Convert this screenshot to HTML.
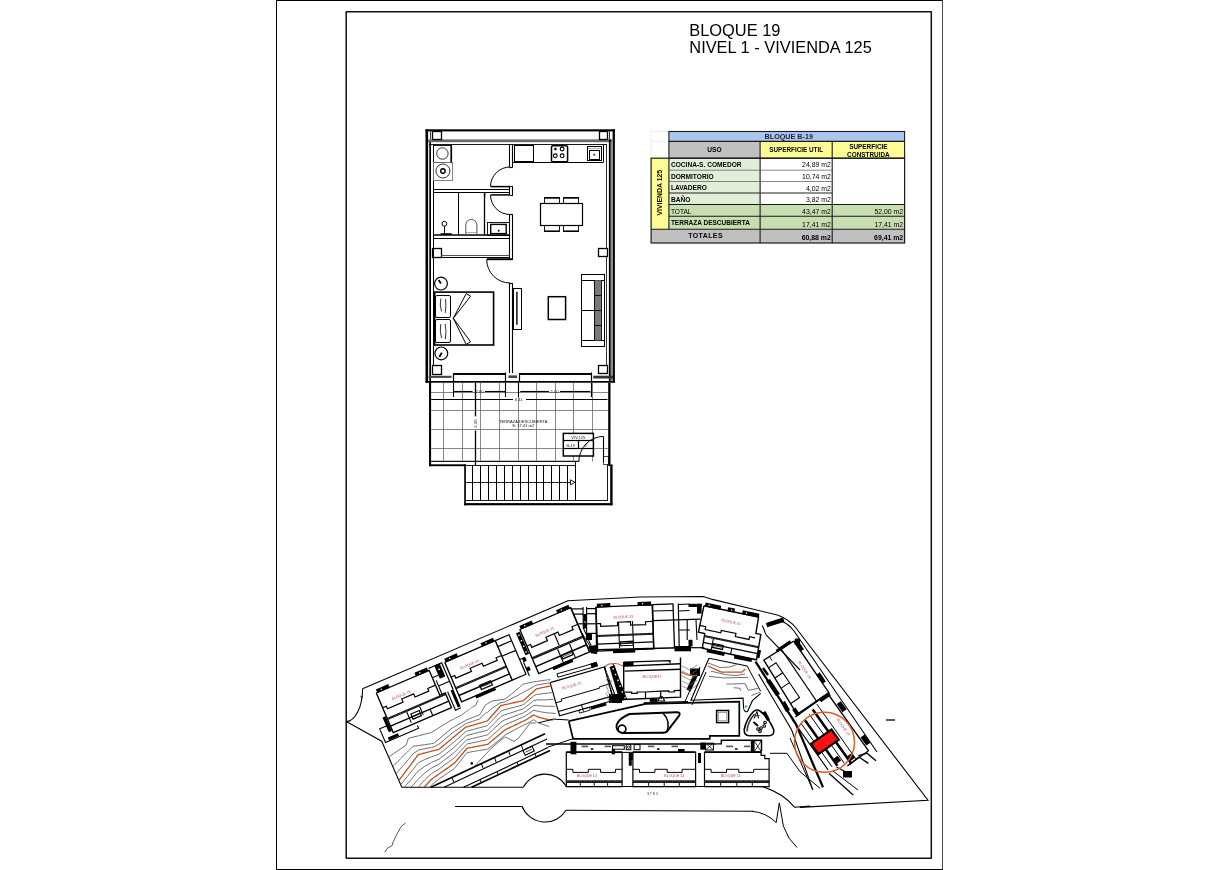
<!DOCTYPE html><html><head><meta charset="utf-8"><style>html,body{margin:0;padding:0;background:#fff;width:1220px;height:870px;overflow:hidden}svg{display:block;font-family:"Liberation Sans",sans-serif;will-change:transform}</style></head><body>
<svg width="1220" height="870" viewBox="0 0 1220 870">
<rect x="276.00" y="0.00" width="667.00" height="1.00" fill="#000"/>
<rect x="276.00" y="0.00" width="1.00" height="870.00" fill="#000"/>
<rect x="942.00" y="0.00" width="1.00" height="870.00" fill="#4a4a4a"/>
<rect x="276.00" y="869.00" width="667.00" height="1.00" fill="#000"/>
<rect x="346.20" y="11.70" width="585.10" height="846.50" stroke="#111" stroke-width="1.5" fill="none" stroke-linejoin="round"/>
<text x="689.30" y="35.90" font-size="16.4" text-anchor="start" font-weight="normal" fill="#000" >BLOQUE 19</text>
<text x="689.30" y="52.90" font-size="16.4" text-anchor="start" font-weight="normal" fill="#000" >NIVEL 1 - VIVIENDA 125</text>
<rect x="425.50" y="129.30" width="189.40" height="2.10" fill="#000"/>
<rect x="425.50" y="129.30" width="2.60" height="253.40" fill="#000"/>
<rect x="612.60" y="129.30" width="2.30" height="253.40" fill="#000"/>
<rect x="425.50" y="381.00" width="189.40" height="1.70" fill="#000"/>
<rect x="428.00" y="139.40" width="184.60" height="2.80" fill="#6a6a6a"/>
<line x1="429.00" y1="144.50" x2="607.00" y2="144.50" stroke="#000" stroke-width="0.9" />
<rect x="608.90" y="139.40" width="1.90" height="241.60" fill="#000"/>
<rect x="610.80" y="142.00" width="1.80" height="239.00" fill="#8a8a8a"/>
<line x1="606.50" y1="144.00" x2="606.50" y2="373.50" stroke="#000" stroke-width="0.8" />
<rect x="429.30" y="142.00" width="1.70" height="239.00" fill="#000"/>
<line x1="433.50" y1="144.50" x2="433.50" y2="373.50" stroke="#000" stroke-width="1.0" />
<rect x="432.50" y="131.50" width="9.00" height="8.00" stroke="#000" stroke-width="1.3" fill="#fff" />
<rect x="599.50" y="131.50" width="8.00" height="8.00" stroke="#000" stroke-width="1.3" fill="#fff" />
<rect x="432.50" y="248.50" width="9.00" height="9.00" stroke="#000" stroke-width="1.3" fill="#fff" />
<rect x="598.50" y="248.50" width="9.00" height="8.00" stroke="#000" stroke-width="1.3" fill="#fff" />
<rect x="432.50" y="365.50" width="9.00" height="9.00" stroke="#000" stroke-width="1.3" fill="#fff" />
<rect x="598.50" y="365.50" width="9.00" height="8.00" stroke="#000" stroke-width="1.3" fill="#fff" />
<line x1="609.50" y1="131.40" x2="609.50" y2="139.40" stroke="#000" stroke-width="0.8" />
<line x1="430.50" y1="131.40" x2="430.50" y2="139.40" stroke="#000" stroke-width="0.8" />
<line x1="509.50" y1="144.00" x2="509.50" y2="167.00" stroke="#000" stroke-width="1.1" />
<line x1="509.50" y1="186.30" x2="509.50" y2="195.20" stroke="#000" stroke-width="1.1" />
<line x1="509.50" y1="214.30" x2="509.50" y2="260.00" stroke="#000" stroke-width="1.1" />
<line x1="509.50" y1="283.30" x2="509.50" y2="373.00" stroke="#000" stroke-width="1.1" />
<line x1="512.50" y1="144.00" x2="512.50" y2="167.00" stroke="#000" stroke-width="1.1" />
<line x1="512.50" y1="186.30" x2="512.50" y2="195.20" stroke="#000" stroke-width="1.1" />
<line x1="512.50" y1="214.30" x2="512.50" y2="260.00" stroke="#000" stroke-width="1.1" />
<line x1="512.50" y1="283.30" x2="512.50" y2="373.00" stroke="#000" stroke-width="1.1" />
<line x1="509.60" y1="167.50" x2="512.80" y2="167.50" stroke="#000" stroke-width="1.2" />
<line x1="509.60" y1="214.50" x2="512.80" y2="214.50" stroke="#000" stroke-width="1.2" />
<line x1="509.60" y1="283.50" x2="512.80" y2="283.50" stroke="#000" stroke-width="1.2" />
<line x1="433.80" y1="189.50" x2="510.10" y2="189.50" stroke="#000" stroke-width="1.1" />
<line x1="433.80" y1="192.50" x2="510.10" y2="192.50" stroke="#000" stroke-width="1.1" />
<line x1="510.10" y1="186.50" x2="512.80" y2="186.50" stroke="#000" stroke-width="1.1" />
<line x1="510.10" y1="195.50" x2="512.80" y2="195.50" stroke="#000" stroke-width="1.1" />
<line x1="490.80" y1="186.60" x2="510.10" y2="186.60" stroke="#000" stroke-width="1.5" />
<line x1="490.80" y1="194.90" x2="510.10" y2="194.90" stroke="#000" stroke-width="1.5" />
<line x1="486.70" y1="259.20" x2="512.50" y2="259.20" stroke="#000" stroke-width="2.0" />
<path d="M510.1,167 A19.6,19.6 0 0 0 490.5,186.6" stroke="#000" stroke-width="1.0" fill="none" />
<path d="M490.5,194.9 A19.6,19.6 0 0 0 510.1,214.5" stroke="#000" stroke-width="1.0" fill="none" />
<path d="M486.7,259.6 A23.4,23.4 0 0 0 510.1,283" stroke="#000" stroke-width="1.0" fill="none" />
<rect x="433.50" y="145.50" width="18.00" height="17.00" stroke="#000" stroke-width="0.9" fill="none" />
<circle cx="442.40" cy="153.50" r="5.70" stroke="#000" stroke-width="0.8" fill="none"/>
<rect x="450.40" y="145.20" width="1.70" height="18.00" fill="#000"/>
<rect x="433.50" y="162.50" width="19.00" height="18.00" stroke="#777" stroke-width="0.9" fill="none" />
<circle cx="442.90" cy="171.00" r="7.00" stroke="#000" stroke-width="0.8" fill="none"/>
<circle cx="442.90" cy="171.00" r="2.20" stroke="#000" stroke-width="1.4" fill="none"/>
<line x1="458.50" y1="192.30" x2="458.50" y2="235.00" stroke="#000" stroke-width="1.0" />
<line x1="484.50" y1="192.30" x2="484.50" y2="235.00" stroke="#000" stroke-width="1.3" />
<rect x="483.90" y="192.30" width="1.40" height="4.70" fill="#000"/>
<line x1="433.80" y1="235.00" x2="510.10" y2="235.00" stroke="#000" stroke-width="1.6" />
<circle cx="444.40" cy="223.80" r="2.40" stroke="#000" stroke-width="1.0" fill="none"/>
<line x1="444.50" y1="226.20" x2="444.50" y2="233.40" stroke="#000" stroke-width="1.0" />
<rect x="440.50" y="233.20" width="11.10" height="1.80" fill="#000"/>
<path d="M465.8,235 V225 A5.55,5.55 0 0 1 476.9,225 V235" stroke="#555" stroke-width="1.0" fill="none" />
<line x1="465.80" y1="232.50" x2="476.90" y2="232.50" stroke="#777" stroke-width="0.6" />
<rect x="487.50" y="222.50" width="22.00" height="13.00" stroke="#000" stroke-width="0.9" fill="none" />
<rect x="490.70" y="224.40" width="15.50" height="9.20" stroke="#000" stroke-width="1.4" fill="none" />
<circle cx="498.70" cy="230.70" r="0.70" stroke="#000" stroke-width="0.6" fill="#000"/>
<rect x="433.50" y="238.50" width="76.00" height="19.00" stroke="#000" stroke-width="1.0" fill="none" />
<line x1="441.30" y1="255.50" x2="509.70" y2="255.50" stroke="#555" stroke-width="1.0" />
<line x1="512.30" y1="162.50" x2="603.50" y2="162.50" stroke="#000" stroke-width="1.0" />
<line x1="603.50" y1="145.00" x2="603.50" y2="162.40" stroke="#000" stroke-width="1.0" />
<rect x="514.50" y="145.50" width="19.00" height="16.00" stroke="#000" stroke-width="1.0" fill="none" />
<line x1="514.60" y1="162.00" x2="533.40" y2="162.00" stroke="#000" stroke-width="1.6" />
<rect x="551.50" y="145.80" width="16.10" height="16.40" stroke="#000" stroke-width="1.5" fill="none" rx="1.4"/>
<circle cx="555.40" cy="149.00" r="1.10" stroke="#000" stroke-width="0.5" fill="#000"/>
<circle cx="562.10" cy="149.00" r="1.90" stroke="#000" stroke-width="1.1" fill="none"/>
<circle cx="555.30" cy="155.80" r="1.90" stroke="#000" stroke-width="1.1" fill="none"/>
<circle cx="562.10" cy="155.80" r="1.90" stroke="#000" stroke-width="1.1" fill="none"/>
<line x1="551.80" y1="161.80" x2="567.30" y2="161.80" stroke="#000" stroke-width="1.6" />
<rect x="587.50" y="146.50" width="14.00" height="14.00" stroke="#000" stroke-width="1.0" fill="none" />
<rect x="589.50" y="150.50" width="10.00" height="9.00" stroke="#000" stroke-width="1.0" fill="none" />
<line x1="588.20" y1="148.50" x2="600.60" y2="148.50" stroke="#777" stroke-width="0.6" />
<circle cx="594.30" cy="154.70" r="0.80" stroke="#000" stroke-width="0.7" fill="none"/>
<rect x="540.50" y="203.50" width="42.00" height="22.00" stroke="#000" stroke-width="1.2" fill="none" />
<rect x="544.50" y="197.50" width="15.00" height="6.00" stroke="#000" stroke-width="0.9" fill="none" />
<line x1="544.30" y1="197.90" x2="559.50" y2="197.90" stroke="#000" stroke-width="1.6" />
<rect x="544.50" y="225.50" width="15.00" height="6.00" stroke="#000" stroke-width="0.9" fill="none" />
<line x1="544.30" y1="231.20" x2="559.50" y2="231.20" stroke="#000" stroke-width="1.6" />
<rect x="563.50" y="197.50" width="15.00" height="6.00" stroke="#000" stroke-width="0.9" fill="none" />
<line x1="563.30" y1="197.90" x2="578.70" y2="197.90" stroke="#000" stroke-width="1.6" />
<rect x="563.50" y="225.50" width="15.00" height="6.00" stroke="#000" stroke-width="0.9" fill="none" />
<line x1="563.30" y1="231.20" x2="578.70" y2="231.20" stroke="#000" stroke-width="1.6" />
<rect x="581.50" y="274.50" width="23.00" height="72.00" stroke="#000" stroke-width="1.0" fill="none" />
<line x1="581.40" y1="280.50" x2="604.90" y2="280.50" stroke="#000" stroke-width="1.0" />
<line x1="581.40" y1="340.50" x2="604.90" y2="340.50" stroke="#000" stroke-width="1.0" />
<line x1="581.40" y1="310.50" x2="594.30" y2="310.50" stroke="#000" stroke-width="1.0" />
<rect x="594.30" y="280.30" width="6.70" height="60.10" fill="#7a7a7a"/>
<line x1="594.30" y1="295.50" x2="601.00" y2="295.50" stroke="#000" stroke-width="0.9" />
<line x1="594.30" y1="310.50" x2="601.00" y2="310.50" stroke="#000" stroke-width="0.9" />
<line x1="594.30" y1="325.50" x2="601.00" y2="325.50" stroke="#000" stroke-width="0.9" />
<line x1="594.50" y1="280.30" x2="594.50" y2="340.40" stroke="#000" stroke-width="0.9" />
<line x1="601.50" y1="280.30" x2="601.50" y2="340.40" stroke="#000" stroke-width="0.9" />
<rect x="548.30" y="296.70" width="17.30" height="22.80" stroke="#000" stroke-width="1.5" fill="none" />
<rect x="513.50" y="288.50" width="8.00" height="41.00" stroke="#000" stroke-width="1.0" fill="none" />
<rect x="516.20" y="291.90" width="1.40" height="32.80" fill="#000"/>
<rect x="434.70" y="292.10" width="58.90" height="52.90" stroke="#000" stroke-width="1.6" fill="none" />
<rect x="435.50" y="295.50" width="15.00" height="22.00" stroke="#000" stroke-width="1.0" fill="none" rx="1.5"/>
<rect x="435.50" y="319.50" width="15.00" height="23.00" stroke="#000" stroke-width="1.0" fill="none" rx="1.5"/>
<path d="M440.8,298.5 Q439.5,305 441.5,311.5" stroke="#000" stroke-width="0.8" fill="none" />
<path d="M445.5,299 Q446.5,305 445.2,313" stroke="#000" stroke-width="0.8" fill="none" />
<path d="M440.8,324 Q439.5,331 441.5,338" stroke="#000" stroke-width="0.8" fill="none" />
<path d="M445.2,324 Q446.6,331 445.4,339" stroke="#000" stroke-width="0.8" fill="none" />
<path d="M453.30,318.30 L466.20,293.60 L470.60,296.20 L453.30,318.30" stroke="#000" stroke-width="1.0" fill="none" />
<path d="M453.30,318.30 L466.20,344.40 L470.60,341.80 L453.30,318.30" stroke="#000" stroke-width="1.0" fill="none" />
<circle cx="441.00" cy="283.60" r="6.40" stroke="#000" stroke-width="1.2" fill="none"/>
<line x1="441.00" y1="283.60" x2="438.60" y2="280.00" stroke="#000" stroke-width="1.8" />
<circle cx="441.30" cy="353.40" r="6.40" stroke="#000" stroke-width="1.2" fill="none"/>
<line x1="441.80" y1="352.60" x2="439.30" y2="357.00" stroke="#000" stroke-width="1.8" />
<rect x="453.30" y="373.00" width="52.30" height="1.60" fill="#000"/>
<rect x="453.50" y="374.50" width="52.00" height="7.00" stroke="#000" stroke-width="0.9" fill="none" />
<rect x="519.00" y="373.00" width="72.40" height="1.60" fill="#000"/>
<rect x="519.50" y="374.50" width="72.00" height="7.00" stroke="#000" stroke-width="0.9" fill="none" />
<line x1="453.50" y1="373.00" x2="453.50" y2="381.00" stroke="#000" stroke-width="1.2" />
<line x1="519.50" y1="373.00" x2="519.50" y2="381.00" stroke="#000" stroke-width="1.2" />
<rect x="428.60" y="375.80" width="23.00" height="2.10" fill="#444"/>
<rect x="593.30" y="375.70" width="19.70" height="2.80" fill="#333"/>
<rect x="508.50" y="375.40" width="8.60" height="2.60" fill="#444"/>
<line x1="505.50" y1="372.50" x2="505.50" y2="381.00" stroke="#000" stroke-width="1.2" />
<line x1="591.50" y1="372.50" x2="591.50" y2="381.00" stroke="#000" stroke-width="1.2" />
<rect x="429.00" y="382.00" width="2.10" height="84.20" fill="#000"/>
<rect x="429.00" y="464.30" width="36.80" height="1.90" fill="#000"/>
<rect x="608.20" y="382.60" width="2.30" height="83.40" fill="#000"/>
<line x1="443.50" y1="382.70" x2="443.50" y2="461.40" stroke="#686868" stroke-width="0.8" />
<line x1="462.50" y1="382.70" x2="462.50" y2="461.40" stroke="#686868" stroke-width="0.8" />
<line x1="480.50" y1="382.70" x2="480.50" y2="461.40" stroke="#686868" stroke-width="0.8" />
<line x1="499.50" y1="382.70" x2="499.50" y2="461.40" stroke="#686868" stroke-width="0.8" />
<line x1="518.50" y1="382.70" x2="518.50" y2="461.40" stroke="#686868" stroke-width="0.8" />
<line x1="536.50" y1="382.70" x2="536.50" y2="461.40" stroke="#686868" stroke-width="0.8" />
<line x1="555.50" y1="382.70" x2="555.50" y2="461.40" stroke="#686868" stroke-width="0.8" />
<line x1="573.50" y1="382.70" x2="573.50" y2="461.40" stroke="#686868" stroke-width="0.8" />
<line x1="592.50" y1="382.70" x2="592.50" y2="461.40" stroke="#686868" stroke-width="0.8" />
<line x1="431.10" y1="392.50" x2="608.20" y2="392.50" stroke="#686868" stroke-width="0.8" />
<line x1="431.10" y1="410.50" x2="608.20" y2="410.50" stroke="#686868" stroke-width="0.8" />
<line x1="431.10" y1="429.50" x2="608.20" y2="429.50" stroke="#686868" stroke-width="0.8" />
<line x1="431.10" y1="448.50" x2="608.20" y2="448.50" stroke="#686868" stroke-width="0.8" />
<line x1="431.10" y1="461.50" x2="578.50" y2="461.50" stroke="#000" stroke-width="0.9" />
<line x1="431.10" y1="460.50" x2="578.50" y2="460.50" stroke="#888" stroke-width="0.5" />
<line x1="453.30" y1="391.50" x2="472.50" y2="391.50" stroke="#000" stroke-width="1.1" />
<line x1="485.00" y1="391.50" x2="505.60" y2="391.50" stroke="#000" stroke-width="1.1" />
<line x1="453.50" y1="382.50" x2="453.50" y2="397.00" stroke="#000" stroke-width="1.1" />
<line x1="505.50" y1="382.50" x2="505.50" y2="397.00" stroke="#000" stroke-width="1.1" />
<line x1="518.50" y1="382.50" x2="518.50" y2="397.00" stroke="#000" stroke-width="1.1" />
<line x1="591.50" y1="382.50" x2="591.50" y2="397.00" stroke="#000" stroke-width="1.1" />
<line x1="520.20" y1="391.50" x2="549.00" y2="391.50" stroke="#000" stroke-width="1.1" />
<line x1="560.00" y1="391.50" x2="590.30" y2="391.50" stroke="#000" stroke-width="1.1" />
<line x1="431.10" y1="399.50" x2="513.00" y2="399.50" stroke="#000" stroke-width="1.1" />
<line x1="526.00" y1="399.50" x2="607.50" y2="399.50" stroke="#000" stroke-width="1.1" />
<line x1="475.50" y1="383.00" x2="475.50" y2="416.40" stroke="#000" stroke-width="1.3" />
<line x1="475.50" y1="430.50" x2="475.50" y2="465.00" stroke="#000" stroke-width="1.3" />
<text x="479.60" y="392.80" font-size="4.2" text-anchor="middle" font-weight="normal" fill="#222" >2.80</text>
<text x="554.40" y="392.80" font-size="4.2" text-anchor="middle" font-weight="normal" fill="#222" >2.40</text>
<text x="519.00" y="400.80" font-size="4.2" text-anchor="middle" font-weight="normal" fill="#222" >6.11</text>
<text x="0" y="0" font-size="4.2" text-anchor="middle" fill="#222" transform="translate(476.5,423.6) rotate(-90)">2.35</text>
<text x="523.20" y="422.60" font-size="4.0" text-anchor="middle" font-weight="normal" fill="#111" textLength="48.5" lengthAdjust="spacingAndGlyphs">TERRAZA DESCUBIERTA</text>
<text x="523.20" y="427.40" font-size="4.0" text-anchor="middle" font-weight="normal" fill="#111" textLength="22" lengthAdjust="spacingAndGlyphs">S: 17.41 m2</text>
<rect x="563.30" y="433.40" width="30.10" height="22.60" stroke="#000" stroke-width="1.5" fill="#fff" />
<line x1="563.30" y1="440.50" x2="593.40" y2="440.50" stroke="#000" stroke-width="1.2" />
<line x1="563.30" y1="448.50" x2="593.40" y2="448.50" stroke="#000" stroke-width="1.2" />
<line x1="578.50" y1="440.70" x2="578.50" y2="448.70" stroke="#000" stroke-width="1.2" />
<text x="578.30" y="439.20" font-size="4.0" text-anchor="middle" font-weight="normal" fill="#222" >VIV.125</text>
<text x="570.80" y="446.90" font-size="4.0" text-anchor="middle" font-weight="normal" fill="#222" >B-19</text>
<text x="585.80" y="446.90" font-size="4.0" text-anchor="middle" font-weight="normal" fill="#222" >1º</text>
<path d="M578.8,462 A24.7,25.6 0 0 1 603.5,436.4" stroke="#000" stroke-width="1.0" fill="none" />
<line x1="603.50" y1="436.40" x2="603.50" y2="462.00" stroke="#000" stroke-width="1.1" />
<rect x="603.50" y="456.50" width="5.00" height="8.00" stroke="#000" stroke-width="0.7" fill="none" />
<rect x="464.20" y="464.30" width="1.70" height="41.00" fill="#000"/>
<rect x="464.20" y="503.10" width="148.20" height="2.20" fill="#000"/>
<rect x="610.20" y="464.40" width="2.40" height="40.90" fill="#000"/>
<line x1="465.90" y1="500.50" x2="607.80" y2="500.50" stroke="#000" stroke-width="0.9" />
<line x1="607.50" y1="464.30" x2="607.50" y2="500.50" stroke="#000" stroke-width="0.9" />
<line x1="465.90" y1="465.50" x2="575.70" y2="465.50" stroke="#000" stroke-width="0.9" />
<line x1="575.50" y1="461.40" x2="575.50" y2="465.50" stroke="#000" stroke-width="0.9" />
<line x1="472.50" y1="465.50" x2="472.50" y2="500.50" stroke="#000" stroke-width="1.0" />
<line x1="480.50" y1="465.50" x2="480.50" y2="500.50" stroke="#000" stroke-width="1.0" />
<line x1="488.50" y1="465.50" x2="488.50" y2="500.50" stroke="#000" stroke-width="1.0" />
<line x1="496.50" y1="465.50" x2="496.50" y2="500.50" stroke="#000" stroke-width="1.0" />
<line x1="504.50" y1="465.50" x2="504.50" y2="500.50" stroke="#000" stroke-width="1.0" />
<line x1="512.50" y1="465.50" x2="512.50" y2="500.50" stroke="#000" stroke-width="1.0" />
<line x1="520.50" y1="465.50" x2="520.50" y2="500.50" stroke="#000" stroke-width="1.0" />
<line x1="528.50" y1="465.50" x2="528.50" y2="500.50" stroke="#000" stroke-width="1.0" />
<line x1="536.50" y1="465.50" x2="536.50" y2="500.50" stroke="#000" stroke-width="1.0" />
<line x1="543.50" y1="465.50" x2="543.50" y2="500.50" stroke="#000" stroke-width="1.0" />
<line x1="551.50" y1="465.50" x2="551.50" y2="500.50" stroke="#000" stroke-width="1.0" />
<line x1="559.50" y1="465.50" x2="559.50" y2="500.50" stroke="#000" stroke-width="1.0" />
<line x1="567.50" y1="465.50" x2="567.50" y2="500.50" stroke="#000" stroke-width="1.0" />
<line x1="575.50" y1="465.50" x2="575.50" y2="500.50" stroke="#000" stroke-width="1.0" />
<line x1="465.90" y1="482.50" x2="570.40" y2="482.50" stroke="#000" stroke-width="0.9" />
<path d="M570.40,479.80 L574.90,482.30 L570.40,484.90 Z" stroke="#000" stroke-width="0.9" fill="#fff" />
<line x1="651.10" y1="131.50" x2="651.10" y2="158.20" stroke="#ddd" stroke-width="0.5" />
<line x1="651.10" y1="131.50" x2="668.90" y2="131.50" stroke="#ddd" stroke-width="0.5" />
<line x1="651.10" y1="141.30" x2="668.90" y2="141.30" stroke="#ddd" stroke-width="0.5" />
<rect x="668.90" y="131.50" width="235.70" height="9.80" fill="#abc6ec"/>
<rect x="668.90" y="141.30" width="91.20" height="16.90" fill="#c0c0c0"/>
<rect x="760.10" y="141.30" width="144.50" height="16.90" fill="#fcfc93"/>
<rect x="651.10" y="158.20" width="17.80" height="71.10" fill="#fcfc93"/>
<rect x="668.90" y="158.20" width="91.20" height="46.30" fill="#e2eed8"/>
<rect x="760.10" y="158.20" width="144.50" height="46.30" fill="#fff"/>
<rect x="668.90" y="204.50" width="235.70" height="24.80" fill="#c7dfb0"/>
<rect x="651.10" y="229.30" width="109.00" height="13.70" fill="#c0c0c0"/>
<rect x="760.10" y="229.30" width="144.50" height="13.70" fill="#c0c0c0"/>
<rect x="668.90" y="131.50" width="235.70" height="26.70" stroke="#1a1a1a" stroke-width="1.1" fill="none" />
<line x1="668.90" y1="141.30" x2="904.60" y2="141.30" stroke="#1a1a1a" stroke-width="1.3" />
<line x1="760.10" y1="141.30" x2="760.10" y2="243.00" stroke="#1a1a1a" stroke-width="1.1" />
<line x1="832.20" y1="141.30" x2="832.20" y2="243.00" stroke="#1a1a1a" stroke-width="1.1" />
<rect x="651.10" y="158.20" width="253.50" height="84.80" stroke="#1a1a1a" stroke-width="1.2" fill="none" />
<line x1="668.90" y1="158.20" x2="668.90" y2="229.30" stroke="#1a1a1a" stroke-width="1.1" />
<line x1="668.90" y1="170.20" x2="832.20" y2="170.20" stroke="#555" stroke-width="0.7" />
<line x1="668.90" y1="181.50" x2="832.20" y2="181.50" stroke="#555" stroke-width="0.7" />
<line x1="668.90" y1="193.00" x2="832.20" y2="193.00" stroke="#222" stroke-width="1.1" />
<line x1="668.90" y1="204.50" x2="904.60" y2="204.50" stroke="#1a1a1a" stroke-width="1.1" />
<line x1="668.90" y1="216.20" x2="904.60" y2="216.20" stroke="#1a1a1a" stroke-width="1.1" />
<line x1="651.10" y1="229.30" x2="904.60" y2="229.30" stroke="#1a1a1a" stroke-width="1.1" />
<text x="788.75" y="139.40" font-size="7.2" text-anchor="middle" font-weight="bold" fill="#202040" >BLOQUE B-19</text>
<text x="714.50" y="152.30" font-size="6.6" text-anchor="middle" font-weight="bold" fill="#000" >USO</text>
<text x="796.15" y="152.30" font-size="6.4" text-anchor="middle" font-weight="bold" fill="#000" textLength="54" lengthAdjust="spacingAndGlyphs">SUPERFICIE UTIL</text>
<text x="868.40" y="148.50" font-size="6.4" text-anchor="middle" font-weight="bold" fill="#000" >SUPERFICIE</text>
<text x="868.40" y="156.50" font-size="6.4" text-anchor="middle" font-weight="bold" fill="#000" >CONSTRUIDA</text>
<text x="670.90" y="166.80" font-size="6.6" text-anchor="start" font-weight="bold" fill="#000" >COCINA-S. COMEDOR</text>
<text x="830.80" y="167.40" font-size="6.9" text-anchor="end" font-weight="normal" fill="#000" >24,89 m2</text>
<text x="670.90" y="178.80" font-size="6.6" text-anchor="start" font-weight="bold" fill="#000" >DORMITORIO</text>
<text x="830.80" y="179.40" font-size="6.9" text-anchor="end" font-weight="normal" fill="#000" >10,74 m2</text>
<text x="670.90" y="190.10" font-size="6.6" text-anchor="start" font-weight="bold" fill="#000" >LAVADERO</text>
<text x="830.80" y="190.70" font-size="6.9" text-anchor="end" font-weight="normal" fill="#000" >4,02 m2</text>
<text x="670.90" y="201.60" font-size="6.6" text-anchor="start" font-weight="bold" fill="#000" >BAÑO</text>
<text x="830.80" y="202.20" font-size="6.9" text-anchor="end" font-weight="normal" fill="#000" >3,82 m2</text>
<text x="670.90" y="214.00" font-size="6.6" text-anchor="start" font-weight="normal" fill="#000" >TOTAL</text>
<text x="830.80" y="213.80" font-size="6.9" text-anchor="end" font-weight="normal" fill="#000" >43,47 m2</text>
<text x="903.20" y="213.80" font-size="6.9" text-anchor="end" font-weight="normal" fill="#000" >52,00 m2</text>
<text x="670.90" y="225.20" font-size="6.5" text-anchor="start" font-weight="bold" fill="#000" >TERRAZA DESCUBIERTA</text>
<text x="830.80" y="226.70" font-size="6.9" text-anchor="end" font-weight="normal" fill="#000" >17,41 m2</text>
<text x="903.20" y="226.70" font-size="6.9" text-anchor="end" font-weight="normal" fill="#000" >17,41 m2</text>
<text x="705.60" y="238.10" font-size="7.0" text-anchor="middle" font-weight="bold" fill="#000" letter-spacing="0.4">TOTALES</text>
<text x="830.80" y="239.90" font-size="6.9" text-anchor="end" font-weight="bold" fill="#000" >60,88 m2</text>
<text x="903.20" y="239.90" font-size="6.9" text-anchor="end" font-weight="bold" fill="#000" >69,41 m2</text>
<text x="0" y="0" font-size="6.9" font-weight="bold" text-anchor="middle" transform="translate(662.20,192.65) rotate(-90)">VIVIENDA 125</text>
<path d="M346.3,721.6 A16.5,33 0 0 0 362.6,688.7" stroke="#000" stroke-width="1.1" fill="none" />
<path d="M362.60,688.70 L567.90,600.80 L640.00,597.00 L703.40,596.50 L712.30,599.40 L778.20,615.20" stroke="#000" stroke-width="1.1" fill="none" />
<path d="M778.2,615.2 Q790,620 796,628 L928,800.2 L800,807.4" stroke="#000" stroke-width="1.1" fill="none" />
<path d="M346.30,721.60 L381.70,741.20 L401.80,787.30 L523.30,787.30" stroke="#000" stroke-width="1.1" fill="none" />
<line x1="360.50" y1="696.20" x2="362.80" y2="697.60" stroke="#000" stroke-width="1.0" />
<path d="M523.3,787.3 A24.5,24.5 0 0 1 565.9,785.8" stroke="#000" stroke-width="1.1" fill="none" />
<path d="M522.2,806.5 A24.5,24.5 0 0 0 565.9,810.3" stroke="#000" stroke-width="1.1" fill="none" />
<line x1="455.10" y1="806.50" x2="522.20" y2="806.50" stroke="#000" stroke-width="1.1" />
<line x1="565.90" y1="810.30" x2="753.00" y2="811.20" stroke="#000" stroke-width="1.1" />
<path d="M752.1,811.3 Q766,812.5 776.2,822.6 L779.3,802.9 L783.4,826.2 L789.1,838.3 L797.1,847.5" stroke="#000" stroke-width="1.0" fill="none" />
<line x1="522.10" y1="806.50" x2="523.50" y2="809.50" stroke="#000" stroke-width="1.0" />
<path d="M565.6,786.5 L762,786.5 Q783,793 794.7,807.3 L810,806.1" stroke="#000" stroke-width="1.1" fill="none" />
<path d="M405.60,822.90 L401.00,826.70 L397.00,834.10 L393.00,842.20 L392.40,845.10 L387.20,848.50 L384.70,852.20" stroke="#555" stroke-width="1.0" fill="none" />
<text x="652.50" y="794.90" font-size="3.2" text-anchor="middle" font-weight="normal" fill="#333" >S T N 3</text>
<line x1="886.00" y1="720.00" x2="895.00" y2="720.00" stroke="#000" stroke-width="1.3" />
<path d="M376.30,693.00 L429.15,670.35 L439.82,695.25 L445.25,692.92 L451.51,707.55 L393.24,732.52 L376.30,693.00" stroke="#000" stroke-width="1.35" fill="none" />
<path d="M375.84,689.39 L388.25,684.07 L389.82,687.75 L377.42,693.07 Z" stroke="none" stroke-width="0" fill="#000" />
<circle cx="381.22" cy="689.26" r="0.75" fill="#fff"/>
<path d="M414.44,672.84 L426.85,667.53 L428.43,671.20 L416.02,676.52 Z" stroke="none" stroke-width="0" fill="#000" />
<circle cx="419.83" cy="672.71" r="0.75" fill="#fff"/>
<path d="M382.65,707.82 L386.33,706.25 L387.43,708.81 L403.06,702.12 L401.72,699.00 L413.67,693.88 L415.00,697.00 L428.79,691.09 L427.69,688.52 L435.50,685.17" stroke="#000" stroke-width="1.2" fill="none" />
<path d="M386.97,717.90 L445.25,692.92 L446.09,694.90 L387.82,719.88 Z" stroke="none" stroke-width="0" fill="#111" />
<circle cx="388.59" cy="718.38" r="0.38" fill="#bbb"/>
<circle cx="390.98" cy="717.35" r="0.38" fill="#bbb"/>
<circle cx="393.37" cy="716.33" r="0.38" fill="#bbb"/>
<circle cx="395.76" cy="715.30" r="0.38" fill="#bbb"/>
<circle cx="398.15" cy="714.28" r="0.38" fill="#bbb"/>
<circle cx="400.54" cy="713.25" r="0.38" fill="#bbb"/>
<circle cx="402.93" cy="712.23" r="0.38" fill="#bbb"/>
<circle cx="405.32" cy="711.21" r="0.38" fill="#bbb"/>
<circle cx="407.71" cy="710.18" r="0.38" fill="#bbb"/>
<circle cx="410.10" cy="709.16" r="0.38" fill="#bbb"/>
<circle cx="412.49" cy="708.13" r="0.38" fill="#bbb"/>
<circle cx="414.88" cy="707.11" r="0.38" fill="#bbb"/>
<circle cx="417.27" cy="706.08" r="0.38" fill="#bbb"/>
<circle cx="419.66" cy="705.06" r="0.38" fill="#bbb"/>
<circle cx="422.05" cy="704.04" r="0.38" fill="#bbb"/>
<circle cx="424.44" cy="703.01" r="0.38" fill="#bbb"/>
<circle cx="426.83" cy="701.99" r="0.38" fill="#bbb"/>
<circle cx="429.22" cy="700.96" r="0.38" fill="#bbb"/>
<circle cx="431.61" cy="699.94" r="0.38" fill="#bbb"/>
<circle cx="434.00" cy="698.91" r="0.38" fill="#bbb"/>
<circle cx="436.39" cy="697.89" r="0.38" fill="#bbb"/>
<circle cx="438.78" cy="696.87" r="0.38" fill="#bbb"/>
<circle cx="441.16" cy="695.84" r="0.38" fill="#bbb"/>
<circle cx="443.55" cy="694.82" r="0.38" fill="#bbb"/>
<path d="M390.53,726.20 L448.80,701.22" stroke="#000" stroke-width="1.4" fill="none" />
<path d="M406.57,711.58 L411.29,722.61" stroke="#000" stroke-width="1.1" fill="none" />
<path d="M419.63,706.52 L423.22,714.89" stroke="#000" stroke-width="1.1" fill="none" />
<path d="M430.04,709.24 L432.76,715.58" stroke="#000" stroke-width="1.1" fill="none" />
<path d="M410.90,714.07 L419.17,710.53 L421.34,715.58 L413.07,719.13 Z" stroke="#000" stroke-width="1.2" fill="none" />
<path d="M412.90,716.21 L419.34,713.45" stroke="#000" stroke-width="0.7" fill="none" />
<text x="0" y="0" font-size="3.6" fill="#b24040" text-anchor="middle" transform="translate(401.64,696.28) rotate(-23.20)">BLOQUE 19</text>
<path d="M444.70,662.30 L495.25,640.63 L512.19,680.16 L461.64,701.82 L444.70,662.30" stroke="#000" stroke-width="1.35" fill="none" />
<path d="M444.24,658.69 L456.65,653.37 L458.22,657.05 L445.82,662.37 Z" stroke="none" stroke-width="0" fill="#000" />
<circle cx="449.62" cy="658.56" r="0.75" fill="#fff"/>
<path d="M480.55,643.13 L492.95,637.81 L494.53,641.49 L482.12,646.80 Z" stroke="none" stroke-width="0" fill="#000" />
<circle cx="485.93" cy="643.00" r="0.75" fill="#fff"/>
<path d="M451.05,677.12 L454.73,675.55 L455.83,678.11 L471.46,671.42 L470.12,668.30 L482.07,663.18 L483.40,666.30 L497.19,660.39 L496.09,657.82 L501.60,655.45" stroke="#000" stroke-width="1.2" fill="none" />
<path d="M455.37,687.20 L505.92,665.53 L506.77,667.51 L456.22,689.18 Z" stroke="none" stroke-width="0" fill="#111" />
<circle cx="456.99" cy="687.68" r="0.38" fill="#bbb"/>
<circle cx="459.38" cy="686.65" r="0.38" fill="#bbb"/>
<circle cx="461.77" cy="685.63" r="0.38" fill="#bbb"/>
<circle cx="464.16" cy="684.60" r="0.38" fill="#bbb"/>
<circle cx="466.55" cy="683.58" r="0.38" fill="#bbb"/>
<circle cx="468.94" cy="682.55" r="0.38" fill="#bbb"/>
<circle cx="471.33" cy="681.53" r="0.38" fill="#bbb"/>
<circle cx="473.72" cy="680.51" r="0.38" fill="#bbb"/>
<circle cx="476.11" cy="679.48" r="0.38" fill="#bbb"/>
<circle cx="478.50" cy="678.46" r="0.38" fill="#bbb"/>
<circle cx="480.89" cy="677.43" r="0.38" fill="#bbb"/>
<circle cx="483.28" cy="676.41" r="0.38" fill="#bbb"/>
<circle cx="485.67" cy="675.38" r="0.38" fill="#bbb"/>
<circle cx="488.06" cy="674.36" r="0.38" fill="#bbb"/>
<circle cx="490.45" cy="673.34" r="0.38" fill="#bbb"/>
<circle cx="492.84" cy="672.31" r="0.38" fill="#bbb"/>
<circle cx="495.23" cy="671.29" r="0.38" fill="#bbb"/>
<circle cx="497.62" cy="670.26" r="0.38" fill="#bbb"/>
<circle cx="500.01" cy="669.24" r="0.38" fill="#bbb"/>
<circle cx="502.40" cy="668.21" r="0.38" fill="#bbb"/>
<circle cx="504.79" cy="667.19" r="0.38" fill="#bbb"/>
<path d="M458.93,695.50 L509.48,673.83" stroke="#000" stroke-width="1.4" fill="none" />
<path d="M479.63,685.41 L490.66,680.68 L492.43,684.82 L481.40,689.55 Z" stroke="#000" stroke-width="1.2" fill="none" />
<path d="M481.43,687.08 L490.62,683.14" stroke="#000" stroke-width="0.7" fill="none" />
<path d="M475.05,695.42 L494.77,686.97 L496.11,690.10 L476.39,698.55 Z" stroke="none" stroke-width="0" fill="#000" />
<text x="0" y="0" font-size="3.6" fill="#b24040" text-anchor="middle" transform="translate(470.04,665.58) rotate(-23.20)">BLOQUE 20</text>
<path d="M519.80,629.50 L570.72,607.68 L589.63,651.79 L538.71,673.62 L519.80,629.50" stroke="#000" stroke-width="1.35" fill="none" />
<path d="M519.34,625.89 L531.75,620.57 L533.32,624.25 L520.92,629.57 Z" stroke="none" stroke-width="0" fill="#000" />
<circle cx="524.72" cy="625.76" r="0.75" fill="#fff"/>
<path d="M556.01,610.17 L568.42,604.85 L570.00,608.53 L557.59,613.85 Z" stroke="none" stroke-width="0" fill="#000" />
<circle cx="561.40" cy="610.04" r="0.75" fill="#fff"/>
<path d="M526.89,646.04 L530.57,644.47 L531.80,647.34 L547.42,640.64 L545.96,637.22 L557.91,632.10 L559.37,635.52 L573.16,629.61 L571.93,626.74 L577.81,624.22" stroke="#000" stroke-width="1.2" fill="none" />
<path d="M531.71,657.29 L582.63,635.47 L583.58,637.68 L532.66,659.50 Z" stroke="none" stroke-width="0" fill="#111" />
<circle cx="533.38" cy="657.89" r="0.38" fill="#bbb"/>
<circle cx="535.77" cy="656.86" r="0.38" fill="#bbb"/>
<circle cx="538.16" cy="655.84" r="0.38" fill="#bbb"/>
<circle cx="540.55" cy="654.81" r="0.38" fill="#bbb"/>
<circle cx="542.94" cy="653.79" r="0.38" fill="#bbb"/>
<circle cx="545.33" cy="652.76" r="0.38" fill="#bbb"/>
<circle cx="547.72" cy="651.74" r="0.38" fill="#bbb"/>
<circle cx="550.11" cy="650.72" r="0.38" fill="#bbb"/>
<circle cx="552.50" cy="649.69" r="0.38" fill="#bbb"/>
<circle cx="554.89" cy="648.67" r="0.38" fill="#bbb"/>
<circle cx="557.28" cy="647.64" r="0.38" fill="#bbb"/>
<circle cx="559.67" cy="646.62" r="0.38" fill="#bbb"/>
<circle cx="562.06" cy="645.59" r="0.38" fill="#bbb"/>
<circle cx="564.45" cy="644.57" r="0.38" fill="#bbb"/>
<circle cx="566.84" cy="643.55" r="0.38" fill="#bbb"/>
<circle cx="569.23" cy="642.52" r="0.38" fill="#bbb"/>
<circle cx="571.62" cy="641.50" r="0.38" fill="#bbb"/>
<circle cx="574.01" cy="640.47" r="0.38" fill="#bbb"/>
<circle cx="576.40" cy="639.45" r="0.38" fill="#bbb"/>
<circle cx="578.79" cy="638.42" r="0.38" fill="#bbb"/>
<circle cx="581.18" cy="637.40" r="0.38" fill="#bbb"/>
<path d="M535.68,666.56 L586.60,644.74" stroke="#000" stroke-width="1.4" fill="none" />
<path d="M554.47,634.23 L559.19,645.26" stroke="#000" stroke-width="1.1" fill="none" />
<path d="M557.62,649.20 L563.53,662.98" stroke="#000" stroke-width="1.1" fill="none" />
<path d="M569.57,644.07 L575.47,657.86" stroke="#000" stroke-width="1.1" fill="none" />
<path d="M561.29,655.24 L571.40,650.90 L572.98,654.58 L562.87,658.91 Z" stroke="#000" stroke-width="1.2" fill="none" />
<path d="M563.00,656.68 L571.27,653.13" stroke="#000" stroke-width="0.7" fill="none" />
<path d="M552.22,667.17 L572.08,658.66 L573.42,661.79 L553.56,670.30 Z" stroke="none" stroke-width="0" fill="#000" />
<text x="0" y="0" font-size="3.6" fill="#b24040" text-anchor="middle" transform="translate(545.14,632.78) rotate(-23.20)">BLOQUE 21</text>
<path d="M388.89,724.92 L379.70,728.86 L385.53,742.46 L418.62,728.28 L417.40,725.43" stroke="#000" stroke-width="1.1" fill="none" />
<path d="M382.47,717.55 L385.60,716.21 L391.90,730.92 L388.78,732.26 Z" stroke="none" stroke-width="0" fill="#000" />
<path d="M387.79,737.58 L397.90,733.24 L399.12,736.09 L389.01,740.43 Z" stroke="none" stroke-width="0" fill="#000" />
<path d="M428.36,668.51 L441.69,662.80 L453.11,689.45" stroke="#000" stroke-width="1.2" fill="none" />
<path d="M434.14,665.49 L439.65,663.13 L445.37,676.45 L439.85,678.82 Z" stroke="none" stroke-width="0" fill="#000" />
<rect x="438.26" y="668.56" width="1.6" height="1.6" fill="#fff"/>
<path d="M432.30,677.70 L438.28,675.14" stroke="#000" stroke-width="1.1" fill="none" />
<path d="M436.18,680.39 L442.08,694.18" stroke="#000" stroke-width="1.1" fill="none" />
<path d="M438.54,685.91 L449.57,681.18" stroke="#000" stroke-width="1.1" fill="none" />
<path d="M450.54,690.56 L453.30,689.37 L460.59,706.38 L457.83,707.56 Z" stroke="none" stroke-width="0" fill="#000" />
<path d="M447.60,691.82 L455.48,710.20 L460.99,707.84" stroke="#000" stroke-width="1.1" fill="none" />
<path d="M495.25,640.63 L509.04,634.72 L525.98,674.25 L512.19,680.16" stroke="#000" stroke-width="1.2" fill="none" />
<path d="M497.81,646.61 L511.60,640.70" stroke="#000" stroke-width="1.2" fill="none" />
<path d="M501.95,656.26 L515.74,650.35" stroke="#000" stroke-width="1.2" fill="none" />
<path d="M519.68,659.54 L525.19,657.18" stroke="#000" stroke-width="1.1" fill="none" />
<path d="M521.97,658.56 L525.19,657.18 L526.77,660.85 L523.55,662.23 Z" stroke="none" stroke-width="0" fill="#000" />
<path d="M525.91,667.75 L529.13,666.37 L530.71,670.04 L527.49,671.42 Z" stroke="none" stroke-width="0" fill="#000" />
<path d="M523.55,662.23 L529.46,676.02" stroke="#000" stroke-width="1.1" fill="none" />
<path d="M515.99,633.31 L519.67,631.73 L529.12,653.79 L525.45,655.37 Z" stroke="none" stroke-width="0" fill="#000" />
<rect x="518.31" y="634.58" width="1.4" height="1.4" fill="#fff"/>
<rect x="520.68" y="640.09" width="1.4" height="1.4" fill="#fff"/>
<rect x="523.04" y="645.61" width="1.4" height="1.4" fill="#fff"/>
<rect x="525.40" y="651.12" width="1.4" height="1.4" fill="#fff"/>
<path d="M570.80,607.90 L589.20,651.00" stroke="#000" stroke-width="1.2" fill="none" />
<path d="M583.00,607.00 L583.30,628.00 L594.60,653.60" stroke="#000" stroke-width="1.1" fill="none" />
<path d="M586.60,607.00 L586.60,640.00" stroke="#000" stroke-width="1.1" fill="none" />
<line x1="595.90" y1="607.00" x2="596.60" y2="653.60" stroke="#000" stroke-width="1.3" />
<line x1="572.00" y1="608.90" x2="583.30" y2="608.90" stroke="#000" stroke-width="1.2" />
<line x1="574.00" y1="614.10" x2="583.30" y2="614.10" stroke="#000" stroke-width="1.2" />
<line x1="578.20" y1="623.80" x2="583.30" y2="623.80" stroke="#000" stroke-width="1.2" />
<line x1="586.60" y1="608.60" x2="595.90" y2="608.60" stroke="#000" stroke-width="1.2" />
<line x1="586.60" y1="613.70" x2="595.90" y2="613.70" stroke="#000" stroke-width="1.2" />
<line x1="586.60" y1="623.80" x2="595.90" y2="623.80" stroke="#000" stroke-width="1.2" />
<line x1="586.60" y1="633.40" x2="595.90" y2="633.40" stroke="#000" stroke-width="1.2" />
<rect x="583.30" y="614.00" width="3.30" height="14.50" fill="#000"/>
<circle cx="585" cy="622" r="0.8" fill="#fff"/>
<rect x="586.60" y="633.40" width="5.40" height="6.60" fill="#000"/>
<path d="M588.2,646.3 L596,645 L596,653.6 L591,653.6 Z" fill="#000"/>
<line x1="581.70" y1="632.60" x2="594.60" y2="653.60" stroke="#000" stroke-width="1.0" />
<line x1="589.20" y1="651.00" x2="596.60" y2="653.60" stroke="#000" stroke-width="1.2" />
<path d="M595.90,607.20 L652.15,604.94 L653.92,648.91 L597.67,651.16 L595.90,607.20" stroke="#000" stroke-width="1.35" fill="none" />
<path d="M596.76,603.66 L610.25,603.12 L610.41,607.12 L596.92,607.66 Z" stroke="none" stroke-width="0" fill="#000" />
<circle cx="601.83" cy="605.46" r="0.75" fill="#fff"/>
<path d="M637.53,602.03 L651.01,601.48 L651.18,605.48 L637.69,606.02 Z" stroke="none" stroke-width="0" fill="#000" />
<circle cx="642.60" cy="603.82" r="0.75" fill="#fff"/>
<path d="M596.56,623.69 L600.56,623.53 L600.67,626.38 L617.66,625.70 L617.52,622.24 L630.51,621.72 L630.65,625.18 L645.64,624.58 L645.52,621.72 L652.82,621.43" stroke="#000" stroke-width="1.2" fill="none" />
<path d="M597.01,634.90 L653.27,632.64 L653.36,634.84 L597.10,637.10 Z" stroke="none" stroke-width="0" fill="#111" />
<circle cx="598.36" cy="635.94" r="0.38" fill="#bbb"/>
<circle cx="600.95" cy="635.84" r="0.38" fill="#bbb"/>
<circle cx="603.55" cy="635.74" r="0.38" fill="#bbb"/>
<circle cx="606.15" cy="635.63" r="0.38" fill="#bbb"/>
<circle cx="608.75" cy="635.53" r="0.38" fill="#bbb"/>
<circle cx="611.35" cy="635.42" r="0.38" fill="#bbb"/>
<circle cx="613.94" cy="635.32" r="0.38" fill="#bbb"/>
<circle cx="616.54" cy="635.21" r="0.38" fill="#bbb"/>
<circle cx="619.14" cy="635.11" r="0.38" fill="#bbb"/>
<circle cx="621.74" cy="635.01" r="0.38" fill="#bbb"/>
<circle cx="624.33" cy="634.90" r="0.38" fill="#bbb"/>
<circle cx="626.93" cy="634.80" r="0.38" fill="#bbb"/>
<circle cx="629.53" cy="634.69" r="0.38" fill="#bbb"/>
<circle cx="632.13" cy="634.59" r="0.38" fill="#bbb"/>
<circle cx="634.73" cy="634.48" r="0.38" fill="#bbb"/>
<circle cx="637.32" cy="634.38" r="0.38" fill="#bbb"/>
<circle cx="639.92" cy="634.28" r="0.38" fill="#bbb"/>
<circle cx="642.52" cy="634.17" r="0.38" fill="#bbb"/>
<circle cx="645.12" cy="634.07" r="0.38" fill="#bbb"/>
<circle cx="647.72" cy="633.96" r="0.38" fill="#bbb"/>
<circle cx="650.31" cy="633.86" r="0.38" fill="#bbb"/>
<path d="M597.38,644.13 L653.64,641.87" stroke="#000" stroke-width="1.4" fill="none" />
<path d="M618.52,622.30 L619.57,648.28" stroke="#000" stroke-width="1.1" fill="none" />
<path d="M632.49,621.14 L633.64,649.72" stroke="#000" stroke-width="1.1" fill="none" />
<path d="M620.61,641.74 L633.10,641.23 L633.26,645.23 L620.77,645.73 Z" stroke="#000" stroke-width="1.2" fill="none" />
<path d="M621.69,643.69 L632.18,643.27" stroke="#000" stroke-width="0.7" fill="none" />
<path d="M612.93,649.95 L635.11,649.06 L635.25,652.46 L613.07,653.35 Z" stroke="none" stroke-width="0" fill="#000" />
<text x="0" y="0" font-size="3.6" fill="#b24040" text-anchor="middle" transform="translate(623.36,618.11) rotate(-2.30)">BLOQUE 22</text>
<line x1="652.60" y1="604.90" x2="653.60" y2="648.50" stroke="#000" stroke-width="1.3" />
<line x1="652.60" y1="604.60" x2="673.00" y2="603.80" stroke="#000" stroke-width="1.2" />
<line x1="652.80" y1="611.00" x2="673.00" y2="610.50" stroke="#000" stroke-width="1.2" />
<line x1="653.00" y1="620.60" x2="700.00" y2="619.20" stroke="#000" stroke-width="1.3" />
<line x1="673.00" y1="603.80" x2="674.50" y2="647.50" stroke="#000" stroke-width="1.3" />
<line x1="678.30" y1="603.60" x2="679.20" y2="647.50" stroke="#000" stroke-width="1.2" />
<line x1="678.30" y1="604.50" x2="689.50" y2="604.00" stroke="#000" stroke-width="1.1" />
<line x1="678.30" y1="611.00" x2="689.50" y2="610.50" stroke="#000" stroke-width="1.1" />
<line x1="696.00" y1="620.00" x2="697.00" y2="640.00" stroke="#000" stroke-width="1.1" />
<line x1="679.20" y1="630.00" x2="690.00" y2="630.00" stroke="#000" stroke-width="1.0" />
<rect x="674.50" y="646.00" width="16.50" height="5.30" fill="#000"/>
<line x1="596.80" y1="649.80" x2="691.00" y2="647.50" stroke="#000" stroke-width="1.6" />
<path d="M703.90,605.80 L758.54,617.12 L755.88,633.41 L760.78,634.43 L756.54,659.80 L702.28,648.15 L704.79,633.56 L698.42,632.24 L703.90,605.80" stroke="#000" stroke-width="1.4" fill="none" />
<path d="M705.61,602.48 L721.28,605.72 L720.45,609.74 L704.78,606.49 Z" stroke="none" stroke-width="0" fill="#000" />
<circle cx="709.10" cy="605.35" r="0.75" fill="#fff"/>
<path d="M728.13,607.14 L734.99,608.56 L734.15,612.58 L727.30,611.16 Z" stroke="none" stroke-width="0" fill="#000" />
<circle cx="731.62" cy="610.01" r="0.75" fill="#fff"/>
<path d="M742.82,610.18 L759.47,613.63 L758.64,617.65 L741.99,614.20 Z" stroke="none" stroke-width="0" fill="#000" />
<circle cx="746.31" cy="613.05" r="0.75" fill="#fff"/>
<path d="M699.84,625.38 L705.72,626.60 L705.11,629.54 L720.78,632.78 L721.29,630.34 L735.97,633.38 L735.30,636.61 L749.01,639.45 L749.58,636.71 L754.97,637.82" stroke="#000" stroke-width="1.2" fill="none" />
<path d="M704.51,634.93 L758.85,646.18 L758.41,648.34 L704.06,637.08 Z" stroke="none" stroke-width="0" fill="#111" />
<circle cx="705.56" cy="636.27" r="0.38" fill="#bbb"/>
<circle cx="708.10" cy="636.80" r="0.38" fill="#bbb"/>
<circle cx="710.65" cy="637.32" r="0.38" fill="#bbb"/>
<circle cx="713.19" cy="637.85" r="0.38" fill="#bbb"/>
<circle cx="715.74" cy="638.38" r="0.38" fill="#bbb"/>
<circle cx="718.29" cy="638.91" r="0.38" fill="#bbb"/>
<circle cx="720.83" cy="639.43" r="0.38" fill="#bbb"/>
<circle cx="723.38" cy="639.96" r="0.38" fill="#bbb"/>
<circle cx="725.92" cy="640.49" r="0.38" fill="#bbb"/>
<circle cx="728.47" cy="641.01" r="0.38" fill="#bbb"/>
<circle cx="731.02" cy="641.54" r="0.38" fill="#bbb"/>
<circle cx="733.56" cy="642.07" r="0.38" fill="#bbb"/>
<circle cx="736.11" cy="642.60" r="0.38" fill="#bbb"/>
<circle cx="738.65" cy="643.12" r="0.38" fill="#bbb"/>
<circle cx="741.20" cy="643.65" r="0.38" fill="#bbb"/>
<circle cx="743.75" cy="644.18" r="0.38" fill="#bbb"/>
<circle cx="746.29" cy="644.70" r="0.38" fill="#bbb"/>
<circle cx="748.84" cy="645.23" r="0.38" fill="#bbb"/>
<circle cx="751.38" cy="645.76" r="0.38" fill="#bbb"/>
<circle cx="753.93" cy="646.29" r="0.38" fill="#bbb"/>
<circle cx="756.48" cy="646.81" r="0.38" fill="#bbb"/>
<path d="M703.26,642.43 L757.61,653.69" stroke="#000" stroke-width="1.3" fill="none" />
<path d="M713.36,639.01 L711.05,650.17" stroke="#000" stroke-width="1.1" fill="none" />
<path d="M731.85,648.35 L730.63,654.23" stroke="#000" stroke-width="1.1" fill="none" />
<path d="M713.45,643.52 L723.24,645.55 L722.43,649.46 L712.64,647.44 Z" stroke="#000" stroke-width="1.2" fill="none" />
<path d="M714.02,645.68 L721.86,647.30" stroke="#000" stroke-width="0.7" fill="none" />
<path d="M707.24,648.87 L724.86,652.52 L724.15,655.95 L706.53,652.30 Z" stroke="none" stroke-width="0" fill="#000" />
<path d="M734.59,654.84 L752.22,658.49 L751.47,662.12 L733.84,658.47 Z" stroke="none" stroke-width="0" fill="#000" />
<path d="M758.12,649.71 L761.06,650.32 L759.44,658.15 L756.50,657.54 Z" stroke="none" stroke-width="0" fill="#000" />
<text x="0" y="0" font-size="3.6" fill="#b24040" text-anchor="middle" transform="translate(730.94,623.14) rotate(11.70)">BLOQUE 21</text>
<line x1="687.20" y1="620.00" x2="687.20" y2="640.00" stroke="#000" stroke-width="1.1" />
<rect x="688.50" y="603.80" width="13.10" height="3.20" fill="#000"/>
<rect x="697.00" y="603.80" width="4.60" height="9.80" fill="#000"/>
<rect x="688.50" y="639.80" width="4.00" height="6.60" fill="#000"/>
<line x1="679.00" y1="647.70" x2="704.30" y2="647.70" stroke="#000" stroke-width="1.2" />
<path d="M765.9,623.0 L783.0,617.5 L784.5,621.8 L767.2,627.3 Z" fill="#000"/>
<line x1="765.90" y1="634.60" x2="800.00" y2="670.00" stroke="#000" stroke-width="1.1" />
<line x1="762.40" y1="625.50" x2="765.90" y2="634.60" stroke="#000" stroke-width="1.1" />
<rect x="794.80" y="638.50" width="5.20" height="6.60" fill="#000"/>
<path d="M793.80,641.00 L828.93,692.69 L797.09,714.33 L763.79,660.18 L793.80,641.00" stroke="#000" stroke-width="1.4" fill="none" />
<path d="M781.39,649.43 L816.52,701.12" stroke="#000" stroke-width="1.1" fill="none" />
<path d="M797.79,640.10 L803.97,649.20 L800.50,651.56 L794.31,642.47 Z" stroke="none" stroke-width="0" fill="#000" />
<path d="M819.71,672.36 L825.89,681.46 L822.42,683.82 L816.23,674.72 Z" stroke="none" stroke-width="0" fill="#000" />
<path d="M789.74,640.37 L791.54,643.02 L777.48,652.57 L775.68,649.93 Z" stroke="none" stroke-width="0" fill="#000" />
<path d="M828.71,692.36 L830.90,695.59 L820.97,702.33 L818.78,699.11 Z" stroke="none" stroke-width="0" fill="#000" />
<path d="M795.50,707.55 L800.00,714.17 L796.69,716.42 L792.19,709.80 Z" stroke="none" stroke-width="0" fill="#000" />
<path d="M768.44,667.91 L775.97,662.79 L799.57,697.53 L790.81,703.49" stroke="#000" stroke-width="1.1" fill="none" />
<path d="M782.71,672.72 L774.61,678.23" stroke="#000" stroke-width="1.1" fill="none" />
<path d="M789.46,682.64 L781.35,688.15" stroke="#000" stroke-width="1.1" fill="none" />
<path d="M769.25,656.47 L772.06,660.61" stroke="#000" stroke-width="1.0" fill="none" />
<text x="0" y="0" font-size="3.6" fill="#b24040" text-anchor="middle" transform="translate(803.63,670.59) rotate(55.80)">BLOQUE 18</text>
<path d="M755.50,661.70 L795.80,723.80 L823.00,787.30" stroke="#000" stroke-width="2.2" fill="none" />
<path d="M758.60,674.10 L791.70,730.00 L812.80,789.90" stroke="#000" stroke-width="1.1" fill="none" />
<path d="M763.00,668.00 L768.00,675.00" stroke="#000" stroke-width="2.4" fill="none" />
<path d="M766,681 L770,679 L780,694 L776,696 Z" fill="#000"/>
<path d="M781,703 L785,701 L790,710 L786,712 Z" fill="#000"/>
<path d="M781,621 Q789,624 794,631 L877,752" stroke="#000" stroke-width="1.1" fill="none" />
<path d="M868.55,750.79 L827.90,693.80 L795.34,717.03" stroke="#000" stroke-width="1.35" fill="none" />
<path d="M868.55,750.79 L847.38,765.89" stroke="#000" stroke-width="1.3" fill="none" />
<path d="M840.79,701.19 L846.59,709.33 L842.52,712.23 L836.72,704.09 Z" stroke="none" stroke-width="0" fill="#000" />
<path d="M864.60,734.57 L870.40,742.71 L866.33,745.61 L860.53,737.47 Z" stroke="none" stroke-width="0" fill="#000" />
<path d="M816.85,704.14 L856.34,759.50" stroke="#000" stroke-width="1.0" fill="none" />
<path d="M812.72,709.54 L851.05,763.27" stroke="#000" stroke-width="2.5" fill="none" />
<path d="M809.40,714.36 L844.25,763.21" stroke="#000" stroke-width="1.0" fill="none" />
<path d="M804.87,720.06 L837.39,765.65" stroke="#000" stroke-width="2.5" fill="none" />
<path d="M800.80,722.96 L832.15,766.92" stroke="#000" stroke-width="1.0" fill="none" />
<path d="M792.08,719.35 L828.08,769.83" stroke="#000" stroke-width="1.1" fill="none" />
<path d="M851.69,752.99 L855.18,757.87 L850.29,761.35 L846.81,756.47 Z" stroke="none" stroke-width="0" fill="#000" />
<path d="M837.62,755.65 L841.11,760.53 L836.22,764.02 L832.74,759.13 Z" stroke="none" stroke-width="0" fill="#000" />
<text x="0" y="0" font-size="3.6" fill="#b24040" text-anchor="middle" transform="translate(842.29,727.75) rotate(54.50)">BLOQUE 19</text>
<path d="M849.40,764.60 L858.90,757.00 L868.40,763.30" stroke="#000" stroke-width="1.4" fill="none" />
<path d="M858.30,755.70 L867.10,753.20 L876.00,760.80" stroke="#000" stroke-width="1.4" fill="none" />
<rect x="843.00" y="771.00" width="9.00" height="6.50" fill="#000"/>
<path d="M829.20,773.40 L853.20,794.90" stroke="#000" stroke-width="1.3" fill="none" />
<path d="M833.00,771.00 L858.00,790.00" stroke="#000" stroke-width="1.0" fill="none" />
<path d="M836.50,767.00 L846.00,772.00" stroke="#000" stroke-width="1.1" fill="none" />
<path d="M790.00,738.00 L812.80,789.90" stroke="#000" stroke-width="1.0" fill="none" />
<circle cx="824.50" cy="742.20" r="30.00" stroke="#d9602a" stroke-width="1.5" fill="none"/>
<g transform="translate(824.9,741.8) rotate(-35)"><rect x="-13.6" y="-7.4" width="27.2" height="14.8" fill="#000"/><rect x="-11.4" y="-5.3" width="22.8" height="10.6" fill="#ff1010"/></g>
<path d="M550.10,682.60 L604.32,667.05 L613.82,700.22 L559.61,715.76 L550.10,682.60" stroke="#000" stroke-width="1.15" fill="none" />
<path d="M556.96,673.87 L596.37,662.57 L597.34,665.93 L557.92,677.24 Z" stroke="#000" stroke-width="1.0" fill="none" />
<path d="M590.41,663.55 L596.66,661.76 L597.95,666.28 L591.71,668.07 Z" stroke="none" stroke-width="0" fill="#000" />
<path d="M555.89,702.79 L561.66,701.13 L561.10,699.21 L599.56,688.18 L599.22,687.03 L609.14,683.88" stroke="#000" stroke-width="1.0" fill="none" />
<path d="M558.37,711.44 L612.58,695.89" stroke="#000" stroke-width="1.1" fill="none" />
<path d="M590.37,706.94 L605.75,702.53 L606.58,705.42 L591.20,709.83 Z" stroke="none" stroke-width="0" fill="#000" />
<path d="M581.44,704.82 L583.37,711.55" stroke="#000" stroke-width="1.0" fill="none" />
<path d="M578.83,710.25 L589.41,707.22 L590.24,710.10 L579.66,713.13 Z" stroke="#000" stroke-width="0.9" fill="none" />
<text x="0" y="0" font-size="3.6" fill="#b24040" text-anchor="middle" transform="translate(572.08,686.70) rotate(-16.00)">BLOQUE 16</text>
<path d="M604.30,667.00 L618.10,703.30" stroke="#000" stroke-width="1.1" fill="none" />
<path d="M613.00,664.00 L627.00,700.00" stroke="#000" stroke-width="1.0" fill="none" />
<path d="M609.5,667 L614.5,665 L626,699 L620,702 Z" fill="#000"/>
<rect x="612.5" y="668.0" width="1.5" height="1.5" fill="#fff"/>
<rect x="614.8" y="673.8" width="1.5" height="1.5" fill="#fff"/>
<rect x="617.1" y="679.6" width="1.5" height="1.5" fill="#fff"/>
<rect x="619.4" y="685.4" width="1.5" height="1.5" fill="#fff"/>
<rect x="621.7" y="691.2" width="1.5" height="1.5" fill="#fff"/>
<rect x="624.0" y="697.0" width="1.5" height="1.5" fill="#fff"/>
<path d="M604.50,666.40 L613.90,702.50" stroke="#000" stroke-width="1.0" fill="none" />
<rect x="609.00" y="694.00" width="13.00" height="9.00" fill="#000"/>
<path d="M623.70,662.20 L670.00,660.70 L670.00,663.30" stroke="#000" stroke-width="1.3" fill="none" />
<path d="M623.70,666.10 L680.50,663.70" stroke="#000" stroke-width="1.4" fill="none" />
<rect x="623.70" y="662.00" width="9.80" height="4.20" fill="#000"/>
<path d="M623.70,662.00 L623.70,699.50 L680.50,697.10 L680.50,657.40" stroke="#000" stroke-width="1.4" fill="none" />
<path d="M624.60,671.10 L680.50,669.30" stroke="#000" stroke-width="1.4" fill="none" />
<path d="M624.60,692.10 L631.70,692.10 L631.70,693.30 L637.10,693.30 L637.10,692.00 L645.50,692.00 L660.70,691.20 L668.80,690.90 L668.80,692.00 L674.20,691.80 L674.20,690.60 L680.50,690.30" stroke="#000" stroke-width="1.2" fill="none" />
<line x1="645.50" y1="692.00" x2="645.50" y2="699.30" stroke="#000" stroke-width="1.2" />
<line x1="660.70" y1="691.00" x2="660.70" y2="697.70" stroke="#000" stroke-width="1.2" />
<rect x="649.70" y="698.90" width="7.80" height="3.00" fill="#000"/>
<path d="M658,701 L659.5,697.5 Q661.3,695.8 663.1,697.5 L664.6,701 Z" stroke="#000" stroke-width="1.1" fill="#fff" />
<rect x="660.30" y="697.20" width="1.90" height="1.80" fill="#000"/>
<path d="M644.30,704.60 L644.30,702.80 L688.00,701.60" stroke="#000" stroke-width="1.2" fill="none" />
<text x="652.00" y="677.50" font-size="3.6" text-anchor="middle" font-weight="normal" fill="#b24040" >BLOQUE17</text>
<path d="M695.5,670 L699.5,672 L690.5,691.5 L686.5,689.5 Z" fill="#000"/>
<rect x="690.00" y="668.50" width="10.00" height="7.50" fill="#000"/>
<path d="M700.00,667.00 L684.00,704.00" stroke="#000" stroke-width="1.0" fill="none" />
<path d="M706.00,672.00 L692.00,705.00" stroke="#000" stroke-width="1.0" fill="none" />
<path d="M568.80,721.20 L645.50,703.90 L739.30,701.60 L739.30,735.90 L709.80,735.90 L709.80,738.90 L573.10,738.90 L568.80,721.20" stroke="#000" stroke-width="1.7" fill="none" />
<path d="M629.5,714.0 L676.5,712.3 Q681.5,712.2 678.8,716.2 L667.5,730.8 Q666,732.8 662,732.8 L623,733.0 Q615.5,732 616.6,725 Q618.5,718.5 629.5,714.0 Z" stroke="#000" stroke-width="1.9" fill="none" />
<path d="M662.5,712.6 Q671.5,722 666.5,732.6" stroke="#000" stroke-width="1.5" fill="none" />
<circle cx="622.00" cy="729.00" r="3.90" stroke="#000" stroke-width="1.7" fill="none"/>
<rect x="716.60" y="710.50" width="12.00" height="12.10" stroke="#000" stroke-width="1.5" fill="none" />
<rect x="718.40" y="712.30" width="8.40" height="8.50" stroke="#666" stroke-width="0.6" fill="none" />
<path d="M749.5,735.8 Q743.6,735.8 744.3,729 Q746.5,719 753,712 Q756.5,708.5 760,711 Q769,718 773.5,729 Q775,735.8 768.5,735.8 Z" stroke="#000" stroke-width="1.6" fill="none" />
<path d="M747.0,731.5 Q747.5,722 754.5,714" stroke="#333" stroke-width="1.5" fill="none" />
<circle cx="758.00" cy="729.00" r="1.30" stroke="#000" stroke-width="1.1" fill="none"/>
<circle cx="761.00" cy="728.00" r="1.30" stroke="#000" stroke-width="1.1" fill="none"/>
<circle cx="764.20" cy="726.00" r="1.30" stroke="#000" stroke-width="1.1" fill="none"/>
<circle cx="765.00" cy="722.50" r="1.30" stroke="#000" stroke-width="1.1" fill="none"/>
<circle cx="760.00" cy="731.20" r="1.30" stroke="#000" stroke-width="1.1" fill="none"/>
<line x1="753.50" y1="722.00" x2="758.00" y2="726.00" stroke="#000" stroke-width="2.0" />
<path d="M754.00,718.50 L757.00,711.50 L758.50,718.50" stroke="#000" stroke-width="1.0" fill="none" />
<line x1="754.80" y1="716.00" x2="759.50" y2="715.50" stroke="#000" stroke-width="0.8" />
<path d="M762.5,712.5 L765.5,711 L770,719.5 L767,721 Z" fill="#000"/>
<circle cx="746.00" cy="706.60" r="1.40" stroke="#000" stroke-width="0" fill="#5c5"/>
<line x1="546.00" y1="743.90" x2="716.40" y2="743.90" stroke="#000" stroke-width="1.5" />
<path d="M716.40,743.90 L721.30,743.90 L721.30,740.20 L761.50,740.20 L761.50,752.40" stroke="#000" stroke-width="1.4" fill="none" />
<line x1="566.30" y1="752.00" x2="622.10" y2="752.00" stroke="#000" stroke-width="1.3" />
<line x1="632.90" y1="752.00" x2="695.60" y2="752.00" stroke="#000" stroke-width="1.3" />
<line x1="704.50" y1="752.00" x2="761.60" y2="752.00" stroke="#000" stroke-width="1.3" />
<rect x="581.60" y="745.60" width="6.60" height="1.60" fill="#555"/>
<rect x="604.60" y="745.60" width="6.50" height="1.60" fill="#555"/>
<rect x="647.90" y="745.60" width="6.50" height="1.60" fill="#555"/>
<rect x="671.50" y="745.60" width="6.50" height="1.60" fill="#555"/>
<rect x="726.00" y="745.60" width="7.00" height="1.60" fill="#555"/>
<rect x="744.00" y="745.60" width="6.00" height="1.60" fill="#555"/>
<rect x="590.80" y="748.30" width="2.60" height="1.50" fill="#000"/>
<rect x="657.00" y="748.30" width="2.60" height="1.50" fill="#000"/>
<rect x="735.00" y="748.30" width="2.60" height="1.50" fill="#000"/>
<rect x="570.50" y="741.80" width="5.90" height="12.50" fill="#000"/>
<rect x="611.80" y="749.00" width="3.30" height="5.30" fill="#000"/>
<rect x="628.90" y="753.00" width="3.90" height="7.00" fill="#000"/>
<rect x="678.00" y="749.00" width="6.60" height="2.80" fill="#000"/>
<rect x="700.30" y="742.50" width="5.30" height="7.20" fill="#000"/>
<rect x="612.50" y="745.70" width="11.80" height="3.50" stroke="#000" stroke-width="1.0" fill="none" />
<rect x="626.20" y="744.60" width="4.60" height="5.10" stroke="#000" stroke-width="1.0" fill="none" />
<circle cx="628.50" cy="747.20" r="1.20" stroke="#000" stroke-width="0.8" fill="none"/>
<rect x="634.10" y="744.60" width="5.90" height="5.10" stroke="#000" stroke-width="1.0" fill="none" />
<rect x="705.60" y="743.20" width="7.80" height="6.80" stroke="#000" stroke-width="1.0" fill="none" />
<line x1="705.60" y1="743.20" x2="713.40" y2="750.00" stroke="#000" stroke-width="0.7" />
<line x1="713.40" y1="743.20" x2="705.60" y2="750.00" stroke="#000" stroke-width="0.7" />
<rect x="750.80" y="740.60" width="3.20" height="11.40" fill="#000"/>
<rect x="754.00" y="740.60" width="7.50" height="11.40" stroke="#000" stroke-width="1.1" fill="none" />
<line x1="754.00" y1="740.60" x2="761.50" y2="752.00" stroke="#000" stroke-width="0.8" />
<line x1="761.50" y1="740.60" x2="754.00" y2="752.00" stroke="#000" stroke-width="0.8" />
<path d="M761.50,753.30 L786.90,753.30 L800.00,771.70 L820.20,788.40" stroke="#000" stroke-width="1.0" fill="none" />
<rect x="566.30" y="752.40" width="55.80" height="34.30" stroke="#000" stroke-width="1.2" fill="none" />
<path d="M566.30,769.30 L572.90,769.30 L572.90,772.40 L588.30,772.40 L588.30,769.30 L600.60,769.30 L600.60,772.40 L615.50,772.40 L615.50,769.30 L622.10,769.30" stroke="#000" stroke-width="1.0" fill="none" />
<rect x="566.30" y="780.30" width="55.80" height="2.2" fill="#111"/>
<circle cx="567.50" cy="781.40" r="0.35" fill="#bbb"/>
<circle cx="569.90" cy="781.40" r="0.35" fill="#bbb"/>
<circle cx="572.30" cy="781.40" r="0.35" fill="#bbb"/>
<circle cx="574.70" cy="781.40" r="0.35" fill="#bbb"/>
<circle cx="577.10" cy="781.40" r="0.35" fill="#bbb"/>
<circle cx="579.50" cy="781.40" r="0.35" fill="#bbb"/>
<circle cx="581.90" cy="781.40" r="0.35" fill="#bbb"/>
<circle cx="584.30" cy="781.40" r="0.35" fill="#bbb"/>
<circle cx="586.70" cy="781.40" r="0.35" fill="#bbb"/>
<circle cx="589.10" cy="781.40" r="0.35" fill="#bbb"/>
<circle cx="591.50" cy="781.40" r="0.35" fill="#bbb"/>
<circle cx="593.90" cy="781.40" r="0.35" fill="#bbb"/>
<circle cx="596.30" cy="781.40" r="0.35" fill="#bbb"/>
<circle cx="598.70" cy="781.40" r="0.35" fill="#bbb"/>
<circle cx="601.10" cy="781.40" r="0.35" fill="#bbb"/>
<circle cx="603.50" cy="781.40" r="0.35" fill="#bbb"/>
<circle cx="605.90" cy="781.40" r="0.35" fill="#bbb"/>
<circle cx="608.30" cy="781.40" r="0.35" fill="#bbb"/>
<circle cx="610.70" cy="781.40" r="0.35" fill="#bbb"/>
<circle cx="613.10" cy="781.40" r="0.35" fill="#bbb"/>
<circle cx="615.50" cy="781.40" r="0.35" fill="#bbb"/>
<circle cx="617.90" cy="781.40" r="0.35" fill="#bbb"/>
<circle cx="620.30" cy="781.40" r="0.35" fill="#bbb"/>
<line x1="566.30" y1="782.50" x2="622.10" y2="782.50" stroke="#000" stroke-width="0.8" />
<line x1="580.25" y1="782.50" x2="580.25" y2="786.70" stroke="#000" stroke-width="0.9" />
<line x1="594.20" y1="782.50" x2="594.20" y2="786.70" stroke="#000" stroke-width="0.9" />
<line x1="607.59" y1="782.50" x2="607.59" y2="786.70" stroke="#000" stroke-width="0.9" />
<text x="586.80" y="776.90" font-size="3.6" text-anchor="middle" font-weight="normal" fill="#b24040" >BLOQUE 13</text>
<rect x="632.90" y="752.40" width="62.70" height="34.30" stroke="#000" stroke-width="1.2" fill="none" />
<path d="M632.90,769.30 L639.50,769.30 L639.50,772.40 L654.90,772.40 L654.90,769.30 L667.20,769.30 L667.20,772.40 L682.10,772.40 L682.10,769.30 L695.60,769.30" stroke="#000" stroke-width="1.0" fill="none" />
<rect x="632.90" y="780.30" width="62.70" height="2.2" fill="#111"/>
<circle cx="634.10" cy="781.40" r="0.35" fill="#bbb"/>
<circle cx="636.50" cy="781.40" r="0.35" fill="#bbb"/>
<circle cx="638.90" cy="781.40" r="0.35" fill="#bbb"/>
<circle cx="641.30" cy="781.40" r="0.35" fill="#bbb"/>
<circle cx="643.70" cy="781.40" r="0.35" fill="#bbb"/>
<circle cx="646.10" cy="781.40" r="0.35" fill="#bbb"/>
<circle cx="648.50" cy="781.40" r="0.35" fill="#bbb"/>
<circle cx="650.90" cy="781.40" r="0.35" fill="#bbb"/>
<circle cx="653.30" cy="781.40" r="0.35" fill="#bbb"/>
<circle cx="655.70" cy="781.40" r="0.35" fill="#bbb"/>
<circle cx="658.10" cy="781.40" r="0.35" fill="#bbb"/>
<circle cx="660.50" cy="781.40" r="0.35" fill="#bbb"/>
<circle cx="662.90" cy="781.40" r="0.35" fill="#bbb"/>
<circle cx="665.30" cy="781.40" r="0.35" fill="#bbb"/>
<circle cx="667.70" cy="781.40" r="0.35" fill="#bbb"/>
<circle cx="670.10" cy="781.40" r="0.35" fill="#bbb"/>
<circle cx="672.50" cy="781.40" r="0.35" fill="#bbb"/>
<circle cx="674.90" cy="781.40" r="0.35" fill="#bbb"/>
<circle cx="677.30" cy="781.40" r="0.35" fill="#bbb"/>
<circle cx="679.70" cy="781.40" r="0.35" fill="#bbb"/>
<circle cx="682.10" cy="781.40" r="0.35" fill="#bbb"/>
<circle cx="684.50" cy="781.40" r="0.35" fill="#bbb"/>
<circle cx="686.90" cy="781.40" r="0.35" fill="#bbb"/>
<circle cx="689.30" cy="781.40" r="0.35" fill="#bbb"/>
<circle cx="691.70" cy="781.40" r="0.35" fill="#bbb"/>
<circle cx="694.10" cy="781.40" r="0.35" fill="#bbb"/>
<line x1="632.90" y1="782.50" x2="695.60" y2="782.50" stroke="#000" stroke-width="0.8" />
<line x1="648.58" y1="782.50" x2="648.58" y2="786.70" stroke="#000" stroke-width="0.9" />
<line x1="664.25" y1="782.50" x2="664.25" y2="786.70" stroke="#000" stroke-width="0.9" />
<line x1="679.30" y1="782.50" x2="679.30" y2="786.70" stroke="#000" stroke-width="0.9" />
<text x="674.30" y="776.90" font-size="3.6" text-anchor="middle" font-weight="normal" fill="#b24040" >BLOQUE 14</text>
<rect x="704.50" y="752.40" width="64.60" height="34.30" stroke="#000" stroke-width="1.2" fill="none" />
<path d="M704.50,769.30 L711.10,769.30 L711.10,772.40 L726.50,772.40 L726.50,769.30 L738.80,769.30 L738.80,772.40 L753.70,772.40 L753.70,769.30 L769.10,769.30" stroke="#000" stroke-width="1.0" fill="none" />
<rect x="704.50" y="780.30" width="64.60" height="2.2" fill="#111"/>
<circle cx="705.70" cy="781.40" r="0.35" fill="#bbb"/>
<circle cx="708.10" cy="781.40" r="0.35" fill="#bbb"/>
<circle cx="710.50" cy="781.40" r="0.35" fill="#bbb"/>
<circle cx="712.90" cy="781.40" r="0.35" fill="#bbb"/>
<circle cx="715.30" cy="781.40" r="0.35" fill="#bbb"/>
<circle cx="717.70" cy="781.40" r="0.35" fill="#bbb"/>
<circle cx="720.10" cy="781.40" r="0.35" fill="#bbb"/>
<circle cx="722.50" cy="781.40" r="0.35" fill="#bbb"/>
<circle cx="724.90" cy="781.40" r="0.35" fill="#bbb"/>
<circle cx="727.30" cy="781.40" r="0.35" fill="#bbb"/>
<circle cx="729.70" cy="781.40" r="0.35" fill="#bbb"/>
<circle cx="732.10" cy="781.40" r="0.35" fill="#bbb"/>
<circle cx="734.50" cy="781.40" r="0.35" fill="#bbb"/>
<circle cx="736.90" cy="781.40" r="0.35" fill="#bbb"/>
<circle cx="739.30" cy="781.40" r="0.35" fill="#bbb"/>
<circle cx="741.70" cy="781.40" r="0.35" fill="#bbb"/>
<circle cx="744.10" cy="781.40" r="0.35" fill="#bbb"/>
<circle cx="746.50" cy="781.40" r="0.35" fill="#bbb"/>
<circle cx="748.90" cy="781.40" r="0.35" fill="#bbb"/>
<circle cx="751.30" cy="781.40" r="0.35" fill="#bbb"/>
<circle cx="753.70" cy="781.40" r="0.35" fill="#bbb"/>
<circle cx="756.10" cy="781.40" r="0.35" fill="#bbb"/>
<circle cx="758.50" cy="781.40" r="0.35" fill="#bbb"/>
<circle cx="760.90" cy="781.40" r="0.35" fill="#bbb"/>
<circle cx="763.30" cy="781.40" r="0.35" fill="#bbb"/>
<circle cx="765.70" cy="781.40" r="0.35" fill="#bbb"/>
<line x1="704.50" y1="782.50" x2="769.10" y2="782.50" stroke="#000" stroke-width="0.8" />
<line x1="720.65" y1="782.50" x2="720.65" y2="786.70" stroke="#000" stroke-width="0.9" />
<line x1="736.80" y1="782.50" x2="736.80" y2="786.70" stroke="#000" stroke-width="0.9" />
<line x1="752.30" y1="782.50" x2="752.30" y2="786.70" stroke="#000" stroke-width="0.9" />
<text x="730.70" y="776.90" font-size="3.6" text-anchor="middle" font-weight="normal" fill="#b24040" >BLOQUE 15</text>
<rect x="628.80" y="753.40" width="3.00" height="12.30" fill="#000"/>
<line x1="622.10" y1="752.40" x2="632.90" y2="752.40" stroke="#000" stroke-width="1.0" />
<rect x="698.00" y="753.00" width="3.00" height="10.00" fill="#000"/>
<rect x="761.80" y="751.00" width="8.20" height="7.00" fill="#fff"/>
<path d="M761.10,752.40 L761.10,755.30 L764.80,755.30 L764.80,758.60 L769.10,758.60" stroke="#000" stroke-width="1.2" fill="none" />
<clipPath id="cc"><path d="M381.7,741.2 L384,747 L392,745 L418,731 L440,722 L452,716 L470,709 L478,699.5 L500,690 L522,680 L537,673 L549,672 L552,688 L556,715 L545,733.4 L430.9,787.3 L401.8,787.3 Z"/></clipPath>
<g clip-path="url(#cc)" fill="none" stroke-linejoin="round">
<path d="M380.0,770.0 L383.0,765.5 L386.0,760.9 L388.6,757.0 L389.0,756.7 L392.0,754.7 L393.4,753.8 L394.0,753.4 L395.0,752.7 L398.0,750.7 L400.7,748.8 L401.0,748.6 L404.0,746.6 L406.1,745.2 L407.0,742.5 L408.4,738.3 L410.0,737.9 L413.0,737.1 L416.0,736.4 L418.0,735.9 L418.4,735.8 L419.0,735.6 L422.0,734.9 L424.3,734.3 L425.0,734.1 L428.0,733.4 L431.0,732.6 L431.4,732.5 L431.5,732.4 L433.7,731.1 L434.0,730.9 L437.0,729.0 L439.0,727.8 L440.0,727.1 L443.0,725.2 L446.0,723.4 L449.0,721.5 L449.8,721.0 L452.0,719.9 L452.1,719.9 L454.4,718.7 L455.0,718.4 L458.0,716.9 L461.0,715.4 L461.3,715.3 L464.0,713.3 L465.6,712.1 L466.5,711.4 L467.0,711.1 L470.0,708.8 L472.2,707.2 L473.0,706.8 L475.7,705.5 L476.0,704.8 L478.0,699.8 L479.0,696.5 L479.7,694.2 L481.0,690.0 L482.0,689.6 L485.0,688.5 L485.5,688.3 L487.2,687.6 L487.7,687.5 L488.0,687.3 L491.0,686.2 L492.4,685.7 L494.0,685.1 L497.0,683.9 L500.0,682.8 L501.0,682.4 L503.0,681.6 L504.9,680.9 L505.0,680.9 L506.0,680.5 L509.0,679.4 L512.0,678.2 L515.0,677.1 L518.0,675.9 L518.4,675.8 L521.0,674.8 L522.6,674.2 L523.1,674.0 L524.0,673.7 L526.7,672.6 L527.0,672.5 L530.0,671.4 L531.9,670.7 L533.0,670.3 L533.6,670.0 L536.0,669.1 L536.4,669.0 L539.0,668.0 L539.1,667.9 L542.0,666.8 L545.0,665.7 L546.0,665.3 L547.5,664.7 L548.0,664.6 L551.0,663.4 L554.0,662.3 L557.0,661.1 L560.0,660.0" stroke="#707070" stroke-width="1.0"/>
<path d="M380.0,780.0 L383.0,776.8 L386.0,773.7 L388.6,771.0 L389.0,770.5 L392.0,767.4 L393.4,765.9 L394.0,765.3 L395.0,764.3 L398.0,761.3 L400.7,758.6 L401.0,758.3 L404.0,755.3 L406.1,753.2 L407.0,752.3 L408.4,750.9 L410.0,749.3 L413.0,746.3 L416.0,745.9 L418.0,745.6 L418.4,745.5 L419.0,745.5 L422.0,745.0 L424.3,744.7 L425.0,744.6 L428.0,744.2 L431.0,743.8 L431.4,743.7 L431.5,743.7 L433.7,743.4 L434.0,743.1 L437.0,740.6 L439.0,739.0 L440.0,738.1 L443.0,735.6 L446.0,733.1 L449.0,730.6 L449.8,729.9 L452.0,728.1 L452.1,728.0 L454.4,726.7 L455.0,726.4 L458.0,724.7 L461.0,723.0 L461.3,722.8 L464.0,721.3 L465.6,720.4 L466.5,719.9 L467.0,719.7 L470.0,718.5 L472.2,717.7 L473.0,717.3 L475.7,716.3 L476.0,716.2 L478.0,715.4 L479.0,715.0 L479.7,714.7 L481.0,712.5 L482.0,710.8 L485.0,705.7 L485.5,704.9 L487.2,703.9 L487.7,703.6 L488.0,703.5 L491.0,701.7 L492.4,700.9 L494.0,700.7 L497.0,700.3 L500.0,699.9 L501.0,699.7 L503.0,699.5 L504.9,699.2 L505.0,699.2 L506.0,698.4 L509.0,696.0 L512.0,693.6 L515.0,691.1 L518.0,688.7 L518.4,688.4 L521.0,685.9 L522.6,684.3 L523.1,684.2 L524.0,684.0 L526.7,683.4 L527.0,683.3 L530.0,682.6 L531.9,682.2 L533.0,682.0 L533.6,681.9 L536.0,681.6 L536.4,681.5 L539.0,681.1 L539.1,681.1 L542.0,680.6 L545.0,680.2 L546.0,680.0 L547.5,679.9 L548.0,679.9 L551.0,679.6 L554.0,679.4 L557.0,679.2 L560.0,679.0" stroke="#707070" stroke-width="1.0"/>
<path d="M380.0,793.0 L383.0,789.4 L386.0,785.8 L388.6,782.6 L389.0,782.2 L392.0,778.5 L393.4,776.9 L394.0,776.1 L395.0,775.0 L398.0,771.5 L400.7,768.3 L401.0,768.0 L404.0,764.5 L406.1,762.0 L407.0,761.0 L408.4,759.4 L410.0,757.5 L413.0,754.0 L416.0,751.8 L418.0,750.3 L418.4,750.0 L419.0,749.9 L422.0,749.3 L424.3,748.9 L425.0,748.7 L428.0,748.1 L431.0,747.5 L431.4,747.5 L431.5,747.5 L433.7,747.0 L434.0,746.9 L437.0,745.2 L439.0,744.1 L440.0,743.3 L443.0,740.8 L446.0,738.3 L449.0,735.7 L449.8,735.1 L452.0,733.2 L452.1,733.1 L454.4,731.6 L455.0,731.1 L458.0,729.1 L461.0,727.0 L461.3,726.8 L464.0,724.9 L465.6,723.8 L466.5,723.4 L467.0,723.3 L470.0,722.2 L472.2,721.5 L473.0,721.2 L475.7,720.3 L476.0,720.2 L478.0,719.5 L479.0,719.2 L479.7,718.9 L481.0,717.6 L482.0,716.7 L485.0,713.7 L485.5,713.2 L487.2,712.5 L487.7,712.0 L488.0,711.8 L491.0,709.2 L492.4,708.0 L494.0,707.0 L497.0,705.1 L500.0,703.2 L501.0,702.6 L503.0,702.3 L504.9,701.9 L505.0,701.9 L506.0,701.4 L509.0,699.9 L512.0,698.3 L515.0,696.8 L518.0,695.3 L518.4,695.1 L521.0,693.5 L522.6,692.6 L523.1,692.4 L524.0,691.9 L526.7,690.4 L527.0,690.3 L530.0,688.6 L531.9,687.5 L533.0,687.0 L533.6,686.7 L536.0,685.4 L536.4,685.2 L539.0,684.7 L539.1,684.7 L542.0,684.2 L545.0,683.6 L546.0,683.5 L547.5,683.2 L548.0,683.2 L551.0,682.8 L554.0,682.3 L557.0,681.9 L560.0,681.5" stroke="#707070" stroke-width="1.0"/>
<path d="M380.0,806.0 L383.0,801.9 L386.0,797.9 L388.6,794.3 L389.0,793.8 L392.0,789.7 L393.4,787.8 L394.0,787.0 L395.0,785.7 L398.0,781.7 L400.7,778.1 L401.0,777.7 L404.0,773.7 L406.1,770.9 L407.0,769.7 L408.4,767.8 L410.0,765.7 L413.0,761.7 L416.0,757.7 L418.0,755.0 L418.4,754.5 L419.0,754.3 L422.0,753.6 L424.3,753.0 L425.0,752.8 L428.0,752.1 L431.0,751.3 L431.4,751.2 L431.5,751.2 L433.7,750.6 L434.0,750.6 L437.0,749.8 L439.0,749.3 L440.0,748.5 L443.0,745.9 L446.0,743.4 L449.0,740.9 L449.8,740.2 L452.0,738.4 L452.1,738.3 L454.4,736.4 L455.0,735.9 L458.0,733.4 L461.0,731.0 L461.3,730.7 L464.0,728.5 L465.6,727.2 L466.5,726.9 L467.0,726.8 L470.0,725.9 L472.2,725.3 L473.0,725.1 L475.7,724.3 L476.0,724.2 L478.0,723.6 L479.0,723.4 L479.7,723.2 L481.0,722.8 L482.0,722.5 L485.0,721.6 L485.5,721.5 L487.2,721.0 L487.7,720.4 L488.0,720.1 L491.0,716.7 L492.4,715.2 L494.0,713.4 L497.0,710.0 L500.0,706.6 L501.0,705.5 L503.0,705.1 L504.9,704.7 L505.0,704.6 L506.0,704.4 L509.0,703.8 L512.0,703.1 L515.0,702.5 L518.0,701.8 L518.4,701.7 L521.0,701.2 L522.6,700.8 L523.1,700.7 L524.0,699.9 L526.7,697.5 L527.0,697.2 L530.0,694.6 L531.9,692.9 L533.0,691.9 L533.6,691.4 L536.0,689.3 L536.4,688.9 L539.0,688.4 L539.1,688.3 L542.0,687.7 L545.0,687.1 L546.0,686.9 L547.5,686.6 L548.0,686.5 L551.0,685.9 L554.0,685.2 L557.0,684.6 L560.0,684.0" stroke="#c4501c" stroke-width="1.3"/>
<path d="M380.0,810.8 L383.0,807.0 L386.0,803.2 L388.6,799.9 L389.0,799.4 L392.0,795.6 L393.4,793.9 L394.0,793.1 L395.0,791.9 L398.0,788.1 L400.7,784.8 L401.0,784.4 L404.0,780.7 L406.1,778.0 L407.0,776.9 L408.4,775.2 L410.0,773.2 L413.0,769.5 L416.0,765.7 L418.0,763.2 L418.4,762.7 L419.0,762.4 L422.0,760.9 L424.3,759.8 L425.0,759.5 L428.0,758.3 L431.0,757.0 L431.4,756.9 L431.5,756.8 L433.7,756.1 L434.0,756.0 L437.0,754.9 L439.0,754.2 L440.0,753.4 L443.0,751.0 L446.0,748.6 L449.0,746.1 L449.8,745.5 L452.0,743.7 L452.1,743.6 L454.4,741.8 L455.0,741.2 L458.0,738.5 L461.0,735.9 L461.3,735.6 L464.0,733.2 L465.6,731.8 L466.5,731.3 L467.0,731.1 L470.0,730.3 L472.2,729.7 L473.0,729.5 L475.7,728.8 L476.0,728.7 L478.0,728.1 L479.0,727.9 L479.7,727.7 L481.0,727.3 L482.0,727.1 L485.0,726.3 L485.5,726.1 L487.2,725.7 L487.7,725.2 L488.0,724.9 L491.0,721.7 L492.4,720.2 L494.0,718.5 L497.0,715.3 L500.0,712.1 L501.0,711.0 L503.0,710.4 L504.9,709.7 L505.0,709.7 L506.0,709.4 L509.0,708.6 L512.0,707.8 L515.0,707.0 L518.0,706.2 L518.4,706.1 L521.0,705.4 L522.6,704.9 L523.1,704.8 L524.0,704.1 L526.7,701.9 L527.0,701.7 L530.0,699.1 L531.9,697.5 L533.0,696.6 L533.6,696.1 L536.0,694.6 L536.4,694.4 L539.0,694.2 L539.1,694.2 L542.0,693.8 L545.0,693.5 L546.0,693.4 L547.5,693.2 L548.0,693.1 L551.0,692.7 L554.0,692.3 L557.0,691.8 L560.0,691.4" stroke="#707070" stroke-width="1.0"/>
<path d="M380.0,815.6 L383.0,812.1 L386.0,808.6 L388.6,805.5 L389.0,805.1 L392.0,801.5 L393.4,799.9 L394.0,799.2 L395.0,798.0 L398.0,794.6 L400.7,791.5 L401.0,791.1 L404.0,787.6 L406.1,785.2 L407.0,784.2 L408.4,782.5 L410.0,780.7 L413.0,777.2 L416.0,773.7 L418.0,771.4 L418.4,770.9 L419.0,770.4 L422.0,768.3 L424.3,766.6 L425.0,766.2 L428.0,764.5 L431.0,762.7 L431.4,762.5 L431.5,762.4 L433.7,761.5 L434.0,761.4 L437.0,760.1 L439.0,759.2 L440.0,758.4 L443.0,756.1 L446.0,753.7 L449.0,751.3 L449.8,750.7 L452.0,749.0 L452.1,748.9 L454.4,747.1 L455.0,746.5 L458.0,743.6 L461.0,740.7 L461.3,740.5 L464.0,737.8 L465.6,736.3 L466.5,735.7 L467.0,735.4 L470.0,734.7 L472.2,734.1 L473.0,733.9 L475.7,733.2 L476.0,733.2 L478.0,732.7 L479.0,732.4 L479.7,732.2 L481.0,731.9 L482.0,731.7 L485.0,730.9 L485.5,730.8 L487.2,730.4 L487.7,730.0 L488.0,729.7 L491.0,726.7 L492.4,725.2 L494.0,723.6 L497.0,720.6 L500.0,717.6 L501.0,716.6 L503.0,715.6 L504.9,714.8 L505.0,714.7 L506.0,714.4 L509.0,713.4 L512.0,712.5 L515.0,711.5 L518.0,710.5 L518.4,710.4 L521.0,709.6 L522.6,709.1 L523.1,708.9 L524.0,708.3 L526.7,706.3 L527.0,706.1 L530.0,703.7 L531.9,702.2 L533.0,701.3 L533.6,700.8 L536.0,700.0 L536.4,699.8 L539.0,700.0 L539.1,700.0 L542.0,699.9 L545.0,699.8 L546.0,699.8 L547.5,699.8 L548.0,699.7 L551.0,699.5 L554.0,699.3 L557.0,699.0 L560.0,698.8" stroke="#707070" stroke-width="1.0"/>
<path d="M380.0,820.4 L383.0,817.2 L386.0,813.9 L388.6,811.1 L389.0,810.7 L392.0,807.4 L393.4,805.9 L394.0,805.3 L395.0,804.2 L398.0,801.0 L400.7,798.1 L401.0,797.8 L404.0,794.6 L406.1,792.3 L407.0,791.4 L408.4,789.9 L410.0,788.2 L413.0,785.0 L416.0,781.8 L418.0,779.6 L418.4,779.1 L419.0,778.5 L422.0,775.6 L424.3,773.4 L425.0,772.9 L428.0,770.7 L431.0,768.4 L431.4,768.1 L431.5,768.1 L433.7,766.9 L434.0,766.8 L437.0,765.2 L439.0,764.1 L440.0,763.4 L443.0,761.1 L446.0,758.8 L449.0,756.6 L449.8,756.0 L452.0,754.3 L452.1,754.2 L454.4,752.5 L455.0,751.9 L458.0,748.7 L461.0,745.6 L461.3,745.3 L464.0,742.5 L465.6,740.9 L466.5,740.1 L467.0,739.7 L470.0,739.0 L472.2,738.5 L473.0,738.3 L475.7,737.7 L476.0,737.6 L478.0,737.2 L479.0,736.9 L479.7,736.8 L481.0,736.5 L482.0,736.2 L485.0,735.5 L485.5,735.4 L487.2,735.0 L487.7,734.8 L488.0,734.5 L491.0,731.6 L492.4,730.3 L494.0,728.8 L497.0,725.9 L500.0,723.1 L501.0,722.1 L503.0,720.9 L504.9,719.8 L505.0,719.8 L506.0,719.4 L509.0,718.3 L512.0,717.2 L515.0,716.0 L518.0,714.9 L518.4,714.8 L521.0,713.8 L522.6,713.2 L523.1,713.0 L524.0,712.4 L526.7,710.7 L527.0,710.5 L530.0,708.2 L531.9,706.8 L533.0,706.0 L533.6,705.6 L536.0,705.3 L536.4,705.3 L539.0,705.8 L539.1,705.8 L542.0,706.0 L545.0,706.2 L546.0,706.2 L547.5,706.3 L548.0,706.3 L551.0,706.3 L554.0,706.3 L557.0,706.2 L560.0,706.2" stroke="#707070" stroke-width="1.0"/>
<path d="M380.0,825.2 L383.0,822.2 L386.0,819.3 L388.6,816.7 L389.0,816.3 L392.0,813.4 L393.4,812.0 L394.0,811.4 L395.0,810.4 L398.0,807.5 L400.7,804.8 L401.0,804.5 L404.0,801.6 L406.1,799.5 L407.0,798.6 L408.4,797.2 L410.0,795.7 L413.0,792.7 L416.0,789.8 L418.0,787.8 L418.4,787.2 L419.0,786.5 L422.0,782.9 L424.3,780.2 L425.0,779.6 L428.0,776.8 L431.0,774.1 L431.4,773.8 L431.5,773.7 L433.7,772.3 L434.0,772.1 L437.0,770.3 L439.0,769.1 L440.0,768.4 L443.0,766.2 L446.0,764.0 L449.0,761.8 L449.8,761.2 L452.0,759.6 L452.1,759.5 L454.4,757.8 L455.0,757.2 L458.0,753.8 L461.0,750.5 L461.3,750.2 L464.0,747.2 L465.6,745.4 L466.5,744.5 L467.0,744.0 L470.0,743.4 L472.2,742.9 L473.0,742.7 L475.7,742.2 L476.0,742.1 L478.0,741.7 L479.0,741.5 L479.7,741.3 L481.0,741.0 L482.0,740.8 L485.0,740.2 L485.5,740.1 L487.2,739.7 L487.7,739.5 L488.0,739.3 L491.0,736.6 L492.4,735.3 L494.0,733.9 L497.0,731.2 L500.0,728.5 L501.0,727.6 L503.0,726.2 L504.9,724.9 L505.0,724.8 L506.0,724.4 L509.0,723.1 L512.0,721.8 L515.0,720.6 L518.0,719.3 L518.4,719.1 L521.0,718.0 L522.6,717.3 L523.1,717.1 L524.0,716.6 L526.7,715.1 L527.0,714.9 L530.0,712.8 L531.9,711.5 L533.0,710.7 L533.6,710.3 L536.0,710.7 L536.4,710.8 L539.0,711.6 L539.1,711.6 L542.0,712.0 L545.0,712.5 L546.0,712.7 L547.5,712.9 L548.0,712.9 L551.0,713.1 L554.0,713.3 L557.0,713.4 L560.0,713.6" stroke="#707070" stroke-width="1.0"/>
<path d="M380.0,830.0 L383.0,827.3 L386.0,824.6 L388.6,822.3 L389.0,821.9 L392.0,819.3 L393.4,818.0 L394.0,817.5 L395.0,816.6 L398.0,813.9 L400.7,811.5 L401.0,811.2 L404.0,808.5 L406.1,806.6 L407.0,805.8 L408.4,804.6 L410.0,803.2 L413.0,800.5 L416.0,797.8 L418.0,796.0 L418.4,795.4 L419.0,794.6 L422.0,790.3 L424.3,787.0 L425.0,786.3 L428.0,783.0 L431.0,779.8 L431.4,779.4 L431.5,779.3 L433.7,777.8 L434.0,777.5 L437.0,775.4 L439.0,774.0 L440.0,773.3 L443.0,771.2 L446.0,769.1 L449.0,767.0 L449.8,766.4 L452.0,764.9 L452.1,764.8 L454.4,763.2 L455.0,762.5 L458.0,758.9 L461.0,755.4 L461.3,755.0 L464.0,751.8 L465.6,750.0 L466.5,748.9 L467.0,748.3 L470.0,747.7 L472.2,747.3 L473.0,747.1 L475.7,746.6 L476.0,746.6 L478.0,746.2 L479.0,746.0 L479.7,745.8 L481.0,745.6 L482.0,745.4 L485.0,744.8 L485.5,744.7 L487.2,744.4 L487.7,744.3 L488.0,744.0 L491.0,741.5 L492.4,740.4 L494.0,739.0 L497.0,736.5 L500.0,734.0 L501.0,733.2 L503.0,731.5 L504.9,729.9 L505.0,729.9 L506.0,729.4 L509.0,727.9 L512.0,726.5 L515.0,725.1 L518.0,723.7 L518.4,723.5 L521.0,722.2 L522.6,721.5 L523.1,721.2 L524.0,720.8 L526.7,719.5 L527.0,719.3 L530.0,717.3 L531.9,716.1 L533.0,715.4 L533.6,715.0 L536.0,716.0 L536.4,716.2 L539.0,717.4 L539.1,717.4 L542.0,718.1 L545.0,718.9 L546.0,719.1 L547.5,719.5 L548.0,719.6 L551.0,719.9 L554.0,720.3 L557.0,720.6 L560.0,721.0" stroke="#c4501c" stroke-width="1.3"/>
<path d="M380.0,834.8 L383.0,832.4 L386.0,830.0 L388.6,827.9 L389.0,827.6 L392.0,825.2 L393.4,824.0 L394.0,823.6 L395.0,822.8 L398.0,820.3 L400.7,818.2 L401.0,817.9 L404.0,815.5 L406.1,813.8 L407.0,813.1 L408.4,811.9 L410.0,810.6 L413.0,808.2 L416.0,805.8 L418.0,804.2 L418.4,803.6 L419.0,802.6 L422.0,797.6 L424.3,793.8 L425.0,792.9 L428.0,789.2 L431.0,785.5 L431.4,785.0 L431.5,784.9 L433.7,783.2 L434.0,782.9 L437.0,780.6 L439.0,779.0 L440.0,778.3 L443.0,776.3 L446.0,774.2 L449.0,772.2 L449.8,771.7 L452.0,770.2 L452.1,770.1 L454.4,768.6 L455.0,767.8 L458.0,764.0 L461.0,760.3 L461.3,759.9 L464.0,756.5 L465.6,754.5 L466.5,753.3 L467.0,752.6 L470.0,752.1 L472.2,751.7 L473.0,751.6 L475.7,751.1 L476.0,751.0 L478.0,750.7 L479.0,750.5 L479.7,750.4 L481.0,750.2 L482.0,750.0 L485.0,749.5 L485.5,749.4 L487.2,749.1 L487.7,749.1 L488.0,748.8 L491.0,746.5 L492.4,745.4 L494.0,744.2 L497.0,741.8 L500.0,739.5 L501.0,738.7 L503.0,736.8 L504.9,734.9 L505.0,734.9 L506.0,734.4 L509.0,732.8 L512.0,731.2 L515.0,729.6 L518.0,728.0 L518.4,727.8 L521.0,726.4 L522.6,725.6 L523.1,725.3 L524.0,725.0 L526.7,723.9 L527.0,723.7 L530.0,721.9 L531.9,720.8 L533.0,720.1 L533.6,719.7 L536.0,721.4 L536.4,721.7 L539.0,723.2 L539.1,723.2 L542.0,724.2 L545.0,725.2 L546.0,725.6 L547.5,726.1 L548.0,726.2 L551.0,726.7 L554.0,727.3 L557.0,727.8 L560.0,728.4" stroke="#707070" stroke-width="1.0"/>
</g>
<path d="M472.50,768.50 L491.20,748.30 L504.90,736.80 L514.10,741.40 L518.70,738.00 L530.20,723.00 L535.90,723.00" stroke="#707070" stroke-width="1.0" fill="none" />
<path d="M606,672 Q609,675 608,679 Q611,680 612,682" stroke="#707070" stroke-width="0.7" fill="none" />
<path d="M606,679 Q609,682 608,686 Q611,687 612,689" stroke="#707070" stroke-width="0.7" fill="none" />
<path d="M606,686 Q609,689 608,693 Q611,694 612,696" stroke="#707070" stroke-width="0.7" fill="none" />
<path d="M606,693 Q609,696 608,700 Q611,701 612,703" stroke="#707070" stroke-width="0.7" fill="none" />
<path d="M604.9,667.2 Q608,663 612.3,663.9 Q617,662.5 623,666" stroke="#c4501c" stroke-width="1.1" fill="none" />
<path d="M682,666 L690,670 L697,665" stroke="#707070" stroke-width="0.7" fill="none" />
<path d="M682,671 L690,675 L697,670" stroke="#707070" stroke-width="0.7" fill="none" />
<path d="M682,676 L690,680 L697,675" stroke="#707070" stroke-width="0.7" fill="none" />
<path d="M682,681 L690,685 L697,680" stroke="#707070" stroke-width="0.7" fill="none" />
<path d="M682,686 L690,690 L697,685" stroke="#707070" stroke-width="0.7" fill="none" />
<path d="M681,672 Q690,677 697,675" stroke="#c4501c" stroke-width="1.1" fill="none" />
<path d="M709.00,658.30 L690.90,700.20 L743.10,698.10 L743.60,708.50" stroke="#000" stroke-width="1.1" fill="none" />
<path d="M743.6,708.5 Q744.5,712.5 747.5,711.5 L752.4,700.7 L760.7,693.4" stroke="#000" stroke-width="1.1" fill="none" />
<path d="M747.20,666.00 L760.70,691.40" stroke="#000" stroke-width="1.0" fill="none" />
<path d="M709.00,658.30 L747.20,666.00" stroke="#000" stroke-width="1.1" fill="none" />
<path d="M707.00,662.50 L720.00,667.50 L730.00,667.00 L738.00,664.00" stroke="#707070" stroke-width="1.0" fill="none" />
<path d="M711.00,671.20 L726.50,674.80 L736.00,675.50 L745.00,674.00" stroke="#707070" stroke-width="1.0" fill="none" />
<path d="M709.00,676.40 L723.40,677.90 L748.30,677.40" stroke="#707070" stroke-width="1.0" fill="none" />
<path d="M707.90,666.00 L721.40,672.20 L742.00,672.20 L745.10,669.10" stroke="#c4501c" stroke-width="1.3" fill="none" />
<path d="M726.50,684.10 L745.10,683.60 L748.30,690.30 L758.60,688.30" stroke="#707070" stroke-width="1.0" fill="none" />
<path d="M733.80,687.70 L740.00,688.30 L740.50,690.80" stroke="#707070" stroke-width="1.0" fill="none" />
<path d="M751.40,695.50 L759.60,692.40" stroke="#707070" stroke-width="1.0" fill="none" />
<line x1="430.90" y1="787.30" x2="545.00" y2="733.70" stroke="#000" stroke-width="1.7" />
<line x1="444.10" y1="787.30" x2="547.00" y2="738.90" stroke="#000" stroke-width="1.1" />
<line x1="463.60" y1="787.30" x2="548.00" y2="747.60" stroke="#000" stroke-width="1.1" />
<line x1="471.60" y1="787.30" x2="550.00" y2="750.50" stroke="#000" stroke-width="1.7" />
<line x1="452.00" y1="777.38" x2="453.60" y2="781.98" stroke="#000" stroke-width="1.0" />
<line x1="481.40" y1="763.56" x2="483.00" y2="768.16" stroke="#000" stroke-width="1.0" />
<line x1="494.50" y1="757.41" x2="496.10" y2="762.01" stroke="#000" stroke-width="1.0" />
<line x1="508.50" y1="750.83" x2="510.10" y2="755.43" stroke="#000" stroke-width="1.0" />
<line x1="521.30" y1="744.81" x2="522.90" y2="749.41" stroke="#000" stroke-width="1.0" />
<line x1="480.00" y1="779.59" x2="481.00" y2="782.19" stroke="#000" stroke-width="1.0" />
<line x1="497.00" y1="771.60" x2="498.00" y2="774.20" stroke="#000" stroke-width="1.0" />
<line x1="517.00" y1="762.20" x2="518.00" y2="764.80" stroke="#000" stroke-width="1.0" />
<line x1="535.00" y1="753.74" x2="536.00" y2="756.34" stroke="#000" stroke-width="1.0" />
<g transform="translate(528.6,750.7) rotate(-25)"><rect x="-5" y="-2.6" width="10" height="5.2" fill="none" stroke="#000" stroke-width="1.1"/><line x1="-3.5" y1="0" x2="3.5" y2="0" stroke="#000" stroke-width="0.7"/></g>
<circle cx="471.80" cy="763.40" r="1.30" stroke="#000" stroke-width="0" fill="#000"/>
<path d="M538.60,722.80 L553.40,719.10 L568.70,720.00" stroke="#000" stroke-width="1.0" fill="none" />
<path d="M548.00,747.10 L573.80,738.40" stroke="#000" stroke-width="1.0" fill="none" />
</svg></body></html>
